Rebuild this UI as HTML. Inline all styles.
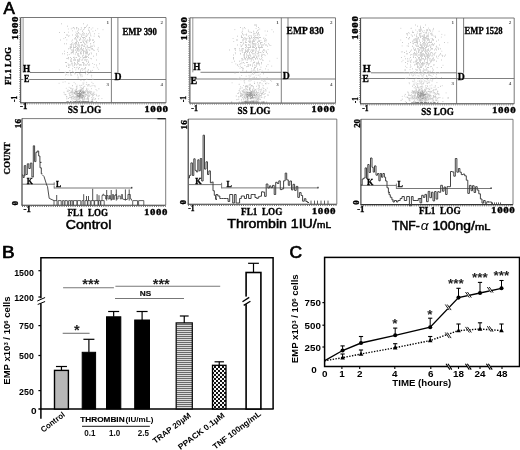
<!DOCTYPE html>
<html><head><meta charset="utf-8"><title>Figure</title>
<style>html,body{margin:0;padding:0;background:#fff;overflow:hidden;}svg{display:block;position:absolute;left:0;top:0;filter:blur(0.35px);}</style></head>
<body><svg width="520" height="450" viewBox="0 0 520 450">
<rect width="520" height="450" fill="#fff"/>
<defs><filter id="bl" x="-5%" y="-5%" width="110%" height="110%"><feGaussianBlur stdDeviation="0.45"/></filter></defs>
<line x1="20.7" y1="17.5" x2="166" y2="17.5" stroke="#696969" stroke-width="0.9" />
<line x1="20.2" y1="102.8" x2="166" y2="102.8" stroke="#3c3c3c" stroke-width="1.0" />
<line x1="20.7" y1="17.5" x2="20.7" y2="102.8" stroke="#3c3c3c" stroke-width="1.0" />
<line x1="166" y1="17.5" x2="166" y2="102.8" stroke="#696969" stroke-width="0.9" />
<line x1="23.099999999999998" y1="17.5" x2="23.099999999999998" y2="72.5" stroke="#696969" stroke-width="0.7" />
<line x1="30" y1="72.5" x2="111.4" y2="72.5" stroke="#696969" stroke-width="0.85" />
<line x1="29.2" y1="79.5" x2="166" y2="79.5" stroke="#696969" stroke-width="0.85" />
<line x1="20.7" y1="79.5" x2="23.3" y2="79.5" stroke="#696969" stroke-width="0.85" />
<line x1="111.4" y1="17.5" x2="111.4" y2="102.8" stroke="#696969" stroke-width="0.85" />
<line x1="117.9" y1="17.5" x2="117.9" y2="72.5" stroke="#696969" stroke-width="0.85" />
<line x1="20.7" y1="103.89999999999999" x2="166" y2="103.89999999999999" stroke="#555" stroke-width="0.9" stroke-dasharray="0.7 1.5"/>
<line x1="19.599999999999998" y1="17.5" x2="19.599999999999998" y2="102.8" stroke="#555" stroke-width="0.9" stroke-dasharray="0.7 1.5"/>
<g filter="url(#bl)">
<path d="M92.6 83.5h1.0M94.0 46.2h1.0M71.2 75.3h1.0M81.3 85.3h1.0M82.8 88.8h1.0M82.2 59.2h1.0M81.0 60.1h1.0M80.4 80.4h1.0M83.9 93.6h1.0M102.5 29.7h1.0M92.1 96.3h1.0M82.8 55.4h1.0M83.0 29.6h1.0M90.2 43.7h1.0M71.3 44.6h1.0M85.0 44.4h1.0M82.9 48.7h1.0M90.8 29.1h1.0M87.0 74.6h1.0M71.2 41.1h1.0M98.8 36.4h1.0M80.2 51.9h1.0M78.5 96.1h1.0M67.0 58.4h1.0M87.5 49.7h1.0M69.3 70.6h1.0M93.9 64.5h1.0M69.3 70.7h1.0M87.6 85.9h1.0M82.4 57.9h1.0M86.3 79.0h1.0M91.1 76.9h1.0M74.2 64.8h1.0M87.9 84.6h1.0M72.1 63.4h1.0M79.8 29.7h1.0M94.5 99.6h1.0M84.8 71.0h1.0M76.7 64.3h1.0M84.4 99.5h1.0M82.4 90.6h1.0M69.9 44.5h1.0M58.9 69.9h1.0M79.1 61.2h1.0M79.6 97.7h1.0M92.3 27.9h1.0M84.5 92.5h1.0M64.7 81.8h1.0M85.0 68.6h1.0M70.9 58.7h1.0M98.1 69.3h1.0M87.3 42.1h1.0M70.6 53.7h1.0M80.7 52.9h1.0M68.8 72.4h1.0M78.0 61.1h1.0M87.4 40.5h1.0M82.1 70.3h1.0M91.3 85.9h1.0M68.7 87.3h1.0M80.4 76.8h1.0M98.3 33.6h1.0M82.5 82.9h1.0M81.2 45.8h1.0M90.7 52.7h1.0M89.0 32.6h1.0M86.9 39.8h1.0M90.3 47.5h1.0M78.6 51.1h1.0M71.4 62.2h1.0M89.8 58.4h1.0M82.3 41.3h1.0M96.0 64.9h1.0M93.2 42.8h1.0M67.9 29.0h1.0M70.8 28.8h1.0M89.7 39.2h1.0M92.4 79.1h1.0M76.1 43.7h1.0M70.8 99.0h1.0M84.2 43.9h1.0M70.6 75.0h1.0M71.7 51.0h1.0M88.2 73.7h1.0M88.1 98.4h1.0M83.7 91.7h1.0M74.8 50.2h1.0M97.7 96.3h1.0M80.6 46.0h1.0M71.7 28.1h1.0M82.8 87.6h1.0M79.3 98.0h1.0M76.0 91.1h1.0M78.6 98.9h1.0M77.9 55.2h1.0M70.7 52.9h1.0M84.7 59.2h1.0M94.0 41.7h1.0M91.6 49.2h1.0M89.1 64.1h1.0M72.7 93.4h1.0M97.2 28.8h1.0M83.4 99.9h1.0M88.6 84.9h1.0M77.7 76.9h1.0M86.3 88.9h1.0M88.5 92.2h1.0M77.6 77.9h1.0M83.5 80.7h1.0M85.7 94.3h1.0M83.8 43.1h1.0M81.7 89.2h1.0M68.8 54.5h1.0M77.0 91.1h1.0M87.3 71.8h1.0M99.0 37.4h1.0M75.7 67.9h1.0M83.0 32.9h1.0M82.5 91.0h1.0M85.0 52.5h1.0M64.6 72.6h1.0M82.7 69.3h1.0M72.4 43.9h1.0M87.2 92.8h1.0M84.5 68.9h1.0M89.9 47.8h1.0M76.5 85.2h1.0M81.7 76.6h1.0M79.7 34.2h1.0M95.0 30.4h1.0M93.4 45.1h1.0M90.4 36.0h1.0M80.3 39.8h1.0M81.8 35.0h1.0M95.8 94.3h1.0M63.8 94.1h1.0M97.5 49.1h1.0M80.8 34.8h1.0M91.2 75.3h1.0M82.3 99.5h1.0M81.3 49.2h1.0M72.9 50.5h1.0M75.4 32.1h1.0M101.4 98.6h1.0M68.7 35.7h1.0M83.7 99.3h1.0M93.2 67.3h1.0M76.0 46.5h1.0M68.7 67.2h1.0M78.6 33.5h1.0M87.3 48.1h1.0M90.8 75.3h1.0M80.0 74.7h1.0M89.3 50.0h1.0M77.7 51.5h1.0M73.9 93.0h1.0M96.9 49.7h1.0M75.3 69.9h1.0M90.7 71.2h1.0M81.1 45.4h1.0M82.8 32.8h1.0M77.7 33.0h1.0M79.9 74.1h1.0M77.0 63.7h1.0M96.4 90.7h1.0M87.0 85.8h1.0M89.8 33.2h1.0M86.3 84.4h1.0M79.3 99.7h1.0M84.4 35.3h1.0M73.9 65.2h1.0M87.6 93.0h1.0M77.4 37.9h1.0M82.9 50.7h1.0M79.8 93.7h1.0M87.5 89.1h1.0M62.5 82.2h1.0M78.9 59.2h1.0M75.8 39.1h1.0M78.1 46.0h1.0M68.0 32.2h1.0M96.9 67.8h1.0M77.3 67.2h1.0M86.9 56.5h1.0M73.0 52.3h1.0M80.9 74.9h1.0M83.0 58.0h1.0M78.1 53.5h1.0M79.6 37.6h1.0M85.9 88.3h1.0M85.9 56.7h1.0M70.9 44.6h1.0M88.2 28.0h1.0M70.6 75.1h1.0M79.1 59.6h1.0M75.3 45.0h1.0M67.6 63.8h1.0M74.6 57.7h1.0M81.9 68.6h1.0M97.8 47.7h1.0M69.9 74.9h1.0M84.3 65.0h1.0M82.0 91.8h1.0M89.3 92.2h1.0M93.9 50.4h1.0M74.8 54.7h1.0M64.6 78.9h1.0M80.0 90.3h1.0M69.0 93.2h1.0M92.3 40.4h1.0M78.1 45.9h1.0M83.4 83.0h1.0M92.4 31.3h1.0M75.0 53.0h1.0M68.0 65.3h1.0M88.4 30.5h1.0M93.5 99.4h1.0M85.5 47.1h1.0M69.2 94.4h1.0M85.8 84.4h1.0M79.8 89.2h1.0M73.5 60.1h1.0M69.2 95.3h1.0M89.7 86.3h1.0M79.4 59.2h1.0M85.1 36.8h1.0M87.9 94.1h1.0M85.4 71.5h1.0M79.9 57.4h1.0M86.6 45.7h1.0M86.1 82.4h1.0M86.8 59.7h1.0M81.1 29.0h1.0M72.5 88.7h1.0M72.2 42.6h1.0M78.6 47.5h1.0M92.0 70.4h1.0M80.9 85.5h1.0M94.7 86.8h1.0M92.1 63.5h1.0M79.1 90.2h1.0M82.4 55.6h1.0M69.4 48.3h1.0M93.7 36.2h1.0M91.3 82.3h1.0M58.6 83.3h1.0M74.5 98.9h1.0M87.9 69.5h1.0M89.0 50.3h1.0M72.5 66.2h1.0M80.8 27.6h1.0M71.8 49.8h1.0M84.5 56.8h1.0M83.8 63.6h1.0M67.6 75.0h1.0M76.6 27.8h1.0M85.2 47.8h1.0M65.8 88.3h1.0M70.2 65.0h1.0M91.0 88.7h1.0M80.2 57.5h1.0M80.1 49.9h1.0M72.9 53.8h1.0M73.4 27.8h1.0M73.7 57.2h1.0M87.1 90.6h1.0M68.4 93.3h1.0M73.6 82.4h1.0M66.1 74.4h1.0M81.7 75.1h1.0M74.7 73.6h1.0M74.3 74.0h1.0M95.5 89.5h1.0M74.9 83.8h1.0M85.9 53.1h1.0M69.7 46.9h1.0M76.2 67.4h1.0M63.3 38.6h1.0M86.2 61.7h1.0M72.0 30.8h1.0M66.2 58.5h1.0M80.0 53.5h1.0M80.0 64.7h1.0M79.5 96.9h1.0M77.7 78.0h1.0M72.5 71.8h1.0M82.6 92.4h1.0M86.9 47.2h1.0M96.1 65.9h1.0M88.7 54.5h1.0M66.3 39.9h1.0M79.9 75.4h1.0M77.2 47.3h1.0M64.9 72.2h1.0M82.3 40.1h1.0M92.5 85.4h1.0M86.4 43.8h1.0M75.0 98.1h1.0" stroke="#d6d6d6" stroke-width="1.0" fill="none"/>
<path d="M76.0 27.5h1.0M96.0 55.0h1.0M75.0 42.5h1.0M68.0 58.8h1.0M81.0 42.5h1.0M77.0 45.0h1.0M88.0 47.5h1.0M90.0 40.0h1.0M75.0 43.8h1.0M76.0 48.8h1.0M88.0 65.0h1.0M72.0 65.0h1.0M81.0 68.8h1.0M79.0 40.0h1.0M86.0 57.5h1.0M77.0 50.0h1.0M81.0 53.8h1.0M67.0 35.0h1.0M80.0 52.5h1.0M76.0 28.8h1.0M90.0 46.2h1.0M72.0 68.8h1.0M88.0 62.5h1.0M86.0 56.2h1.0M73.0 50.0h1.0M83.0 57.5h1.0M84.0 37.5h1.0M75.0 46.2h1.0M79.0 40.0h1.0M66.0 35.0h1.0M82.0 50.0h1.0M84.0 27.5h1.0M77.0 61.2h1.0M65.0 37.5h1.0M68.0 65.0h1.0M80.0 42.5h1.0M81.0 48.8h1.0M87.0 63.8h1.0M87.0 53.8h1.0M86.0 60.0h1.0M89.0 27.5h1.0M83.0 51.2h1.0M81.0 47.5h1.0M79.0 56.2h1.0M81.0 51.2h1.0M72.0 35.0h1.0M74.0 28.8h1.0M76.0 40.0h1.0M67.0 26.2h1.0M76.0 42.5h1.0M96.0 60.0h1.0M74.0 43.8h1.0M72.0 40.0h1.0M77.0 50.0h1.0M75.0 60.0h1.0M85.0 73.8h1.0M70.0 57.5h1.0M77.0 31.2h1.0M78.0 30.0h1.0M90.0 71.2h1.0M89.0 31.2h1.0M83.0 51.2h1.0M83.0 37.5h1.0M65.0 75.0h1.0M89.0 53.8h1.0M76.0 52.5h1.0M71.0 61.2h1.0M81.0 48.8h1.0M77.0 48.8h1.0M81.0 45.0h1.0M87.0 52.5h1.0M79.0 40.0h1.0M89.0 65.0h1.0M85.0 27.5h1.0M77.0 62.5h1.0M80.0 65.0h1.0M77.0 60.0h1.0M77.0 47.5h1.0M75.0 38.8h1.0M92.0 48.8h1.0M86.0 33.8h1.0M64.0 43.8h1.0M83.0 41.2h1.0M84.0 60.0h1.0M77.0 48.8h1.0M74.0 62.5h1.0M93.0 56.2h1.0M76.0 41.2h1.0M78.0 61.2h1.0M74.0 67.5h1.0M71.0 50.0h1.0M90.0 71.2h1.0M77.0 60.0h1.0M99.0 63.8h1.0M64.0 53.8h1.0M98.0 36.2h1.0M87.0 25.0h1.0M92.0 40.0h1.0M86.0 61.2h1.0M59.0 32.5h1.0M82.0 31.2h1.0M80.0 38.8h1.0M90.0 43.8h1.0M73.0 57.5h1.0M89.0 47.5h1.0M82.0 56.2h1.0M76.0 36.2h1.0M84.0 46.2h1.0M70.0 60.0h1.0M83.0 51.2h1.0M74.0 47.5h1.0M85.0 56.2h1.0M74.0 38.8h1.0M83.0 52.5h1.0M86.0 36.2h1.0M87.0 71.2h1.0M87.0 51.2h1.0M87.0 35.0h1.0M77.0 75.0h1.0M68.0 36.2h1.0M86.0 42.5h1.0M76.0 36.2h1.0M93.0 42.5h1.0M78.0 28.8h1.0M86.0 50.0h1.0M84.0 68.8h1.0M81.0 36.2h1.0M72.0 51.2h1.0M90.0 35.0h1.0M78.0 48.8h1.0M85.0 38.8h1.0M82.0 60.0h1.0M80.0 48.8h1.0M85.0 57.5h1.0M89.0 37.5h1.0M89.0 47.5h1.0M71.0 43.8h1.0M71.0 47.5h1.0M71.0 58.8h1.0M78.0 60.0h1.0M70.0 48.8h1.0M60.0 40.0h1.0M86.0 65.0h1.0M92.0 48.8h1.0M73.0 45.0h1.0M66.0 66.2h1.0M89.0 38.8h1.0M94.0 33.8h1.0M84.0 40.0h1.0M67.0 55.0h1.0M71.0 63.8h1.0M73.0 51.2h1.0M76.0 51.2h1.0M75.0 60.0h1.0M85.0 51.2h1.0M79.0 73.8h1.0M75.0 45.0h1.0M86.0 50.0h1.0M68.0 48.8h1.0M77.0 37.5h1.0M81.0 36.2h1.0M78.0 36.2h1.0M92.0 46.2h1.0M83.0 53.8h1.0M85.0 48.8h1.0M86.0 51.2h1.0M62.0 53.8h1.0M70.0 61.2h1.0M82.0 45.0h1.0M61.0 23.8h1.0M71.0 45.0h1.0M70.0 73.8h1.0M83.0 48.8h1.0M73.0 46.2h1.0M78.0 45.0h1.0M79.0 60.0h1.0M67.0 52.5h1.0M88.0 33.8h1.0M79.0 45.0h1.0M71.0 61.2h1.0M78.0 63.8h1.0M83.0 46.2h1.0M82.0 45.0h1.0M68.0 67.5h1.0M83.0 63.8h1.0M66.0 62.5h1.0M86.0 50.0h1.0M64.0 51.2h1.0M75.0 47.5h1.0M80.0 38.8h1.0M79.0 50.0h1.0M91.0 48.8h1.0M98.0 36.2h1.0M79.0 65.0h1.0M68.0 57.5h1.0M83.0 42.5h1.0M78.0 68.8h1.0M77.0 53.8h1.0M83.0 65.0h1.0M64.0 32.5h1.0M70.0 46.2h1.0M85.0 60.0h1.0M78.0 68.8h1.0M79.0 58.8h1.0M74.0 60.0h1.0M75.0 63.8h1.0M86.0 72.5h1.0M77.0 36.2h1.0M86.0 53.8h1.0M76.0 33.8h1.0M86.0 26.2h1.0M77.0 62.5h1.0M78.0 55.0h1.0M84.0 57.5h1.0M88.0 57.5h1.0M77.0 35.0h1.0M78.0 42.5h1.0M83.0 65.0h1.0M86.0 41.2h1.0M82.0 50.0h1.0M76.0 65.0h1.0M85.0 53.8h1.0M74.0 63.8h1.0M78.0 50.0h1.0M78.0 56.2h1.0M80.0 70.0h1.0M79.0 46.2h1.0M91.0 58.8h1.0M85.0 56.2h1.0M80.0 53.8h1.0M84.0 51.2h1.0M66.0 66.2h1.0M76.0 43.8h1.0M77.0 41.2h1.0M73.0 48.8h1.0M87.0 46.2h1.0M84.0 33.8h1.0M86.0 36.2h1.0M85.0 41.2h1.0M75.0 35.0h1.0M70.0 47.5h1.0M73.0 47.5h1.0M89.0 40.0h1.0M78.0 48.8h1.0M75.0 50.0h1.0M82.0 62.5h1.0M75.0 47.5h1.0M79.0 65.0h1.0M72.0 52.5h1.0M86.0 57.5h1.0M75.0 37.5h1.0M66.0 43.8h1.0M78.0 32.5h1.0M86.0 52.5h1.0M78.0 43.8h1.0M84.0 46.2h1.0M84.0 43.8h1.0M88.0 30.0h1.0M72.0 71.2h1.0M88.0 70.0h1.0M74.0 58.8h1.0M88.0 61.2h1.0M79.0 67.5h1.0M83.0 35.0h1.0M98.0 51.2h1.0M89.0 41.2h1.0M73.0 60.0h1.0M86.0 41.2h1.0M82.0 33.8h1.0M65.0 62.5h1.0M71.0 58.8h1.0M88.0 55.0h1.0M91.0 53.8h1.0M82.0 50.0h1.0M83.0 53.8h1.0M73.0 50.0h1.0M89.0 40.0h1.0M84.0 28.8h1.0M80.0 71.2h1.0M81.0 65.0h1.0M77.0 55.0h1.0M83.0 23.8h1.0M74.0 72.5h1.0M74.0 65.0h1.0M93.0 50.0h1.0M88.0 55.0h1.0M76.0 57.5h1.0M83.0 38.8h1.0M77.0 33.8h1.0M77.0 50.0h1.0M73.0 27.5h1.0M85.0 65.0h1.0M73.0 51.2h1.0M96.0 53.8h1.0M69.0 65.0h1.0M85.0 67.5h1.0M85.0 56.2h1.0M91.0 46.2h1.0M82.0 37.5h1.0M71.0 52.5h1.0M82.0 31.2h1.0M83.0 62.5h1.0M71.0 46.2h1.0M93.0 40.0h1.0" stroke="#cbcbcb" stroke-width="1.0" fill="none"/>
<path d="M84.3 98.4h1.0M81.3 95.5h1.0M84.3 96.1h1.0M81.1 88.0h1.0M81.8 91.2h1.0M88.4 84.9h1.0M87.5 95.3h1.0M71.8 89.2h1.0M87.9 91.8h1.0M79.4 95.1h1.0M89.2 91.1h1.0M77.0 97.6h1.0M82.7 84.2h1.0M84.5 94.1h1.0M72.3 92.0h1.0M68.0 98.4h1.0M91.1 91.9h1.0M76.5 88.1h1.0M74.7 90.1h1.0M87.9 99.3h1.0M72.7 98.6h1.0M74.6 90.7h1.0M85.5 94.3h1.0M98.6 95.7h1.0M77.7 98.2h1.0M71.3 97.9h1.0M91.7 94.2h1.0M76.1 100.0h1.0M71.6 96.5h1.0M76.1 96.2h1.0M74.1 97.6h1.0M77.3 96.8h1.0M66.8 91.2h1.0M82.0 88.5h1.0M79.2 90.7h1.0M83.6 97.6h1.0M76.5 97.8h1.0M75.8 95.3h1.0M83.9 97.4h1.0M75.2 94.1h1.0M66.3 98.8h1.0M71.6 92.1h1.0M76.2 96.7h1.0M77.9 93.5h1.0M80.6 93.3h1.0M79.8 90.3h1.0M75.9 89.2h1.0M86.4 98.9h1.0M85.0 96.3h1.0M75.5 97.4h1.0M68.4 83.3h1.0M71.1 101.7h1.0M74.6 99.5h1.0M91.9 99.4h1.0M82.1 99.8h1.0M71.3 91.3h1.0M80.2 91.3h1.0M93.2 97.9h1.0M90.2 93.1h1.0M91.7 100.3h1.0M76.2 92.2h1.0M82.3 100.1h1.0M91.8 101.7h1.0M76.4 86.6h1.0M67.3 101.7h1.0M87.9 100.2h1.0M80.0 95.2h1.0M83.6 96.9h1.0M80.6 90.3h1.0M69.7 95.5h1.0M78.8 101.3h1.0M72.0 85.7h1.0M65.3 94.6h1.0M92.6 93.2h1.0M74.7 96.5h1.0M91.6 99.8h1.0M86.6 99.1h1.0M77.8 95.2h1.0M63.5 92.3h1.0M82.8 93.7h1.0M79.0 93.6h1.0M72.8 97.1h1.0M89.7 93.1h1.0M83.3 99.9h1.0M75.1 94.4h1.0M92.9 93.9h1.0M95.0 98.7h1.0M66.3 97.0h1.0M81.9 97.1h1.0M85.1 92.7h1.0M88.5 96.2h1.0M94.2 94.3h1.0M84.2 86.3h1.0M75.4 91.1h1.0M87.0 91.9h1.0M88.7 92.5h1.0M87.2 92.0h1.0M71.0 97.5h1.0M78.2 97.2h1.0M67.6 90.0h1.0M83.0 87.1h1.0M82.5 89.0h1.0M87.4 98.7h1.0M96.1 95.7h1.0M76.3 98.6h1.0M69.9 92.7h1.0M72.5 92.2h1.0M70.3 88.1h1.0M71.7 96.6h1.0M80.2 94.4h1.0M83.5 98.3h1.0M82.1 96.6h1.0M76.3 99.8h1.0M86.1 89.7h1.0M82.6 95.2h1.0M70.5 88.6h1.0M70.7 92.9h1.0M77.8 93.6h1.0M79.7 96.7h1.0M79.6 98.0h1.0M78.5 100.0h1.0M79.5 90.9h1.0M94.3 85.8h1.0M81.3 93.2h1.0M82.5 92.9h1.0M73.3 96.4h1.0M80.0 93.7h1.0M81.6 93.9h1.0M70.6 91.2h1.0M85.5 91.3h1.0M84.9 94.3h1.0M83.0 96.4h1.0M76.7 93.6h1.0M79.5 97.8h1.0M98.1 98.8h1.0M79.1 91.6h1.0M80.9 94.5h1.0M81.9 94.7h1.0M79.8 100.6h1.0M92.7 95.3h1.0M91.9 99.1h1.0M89.0 96.0h1.0M81.6 98.5h1.0M72.8 95.1h1.0M71.5 99.0h1.0M81.6 97.5h1.0M77.5 91.3h1.0M87.2 92.8h1.0M78.4 95.0h1.0M83.5 95.1h1.0M72.2 90.0h1.0M87.6 93.4h1.0M78.2 90.7h1.0M87.0 97.0h1.0M75.9 86.9h1.0M93.5 92.2h1.0M71.3 92.5h1.0M71.5 94.8h1.0M75.8 89.3h1.0M85.1 90.9h1.0M66.1 96.4h1.0M75.9 89.8h1.0M67.5 91.6h1.0M75.5 92.6h1.0M76.2 100.6h1.0M88.0 96.2h1.0M84.2 92.7h1.0M69.1 97.3h1.0M90.3 91.6h1.0M74.8 91.6h1.0M70.1 97.3h1.0M71.9 101.1h1.0M92.5 95.2h1.0M79.7 90.9h1.0M86.8 95.2h1.0M68.8 90.5h1.0M83.5 92.5h1.0M83.3 95.9h1.0M90.8 94.3h1.0M88.0 99.9h1.0M89.9 93.2h1.0M78.5 92.0h1.0M80.9 89.4h1.0M73.6 92.8h1.0M77.9 99.4h1.0M71.8 94.0h1.0M82.0 93.5h1.0M71.9 90.8h1.0M76.2 92.3h1.0M75.9 96.7h1.0M79.4 85.4h1.0M91.7 94.9h1.0M76.9 99.9h1.0M79.1 93.8h1.0M73.4 99.0h1.0M86.3 90.9h1.0M75.8 100.5h1.0M74.6 92.9h1.0M74.2 93.7h1.0M86.5 95.1h1.0M87.5 97.6h1.0M64.8 94.7h1.0M79.8 87.1h1.0M85.9 94.6h1.0M76.2 97.2h1.0M87.2 98.1h1.0M76.1 94.6h1.0M98.4 88.8h1.0M80.5 95.0h1.0M91.3 97.6h1.0M81.7 93.4h1.0M89.3 95.1h1.0M79.3 95.6h1.0M85.2 95.0h1.0M81.9 98.5h1.0M74.6 93.7h1.0" stroke="#c6c6c6" stroke-width="1.0" fill="none"/>
<path d="M79.2 95.7h1.0M80.3 93.3h1.0M76.5 93.6h1.0M77.8 96.1h1.0M80.5 94.4h1.0M76.4 91.7h1.0M79.3 95.5h1.0M79.9 93.8h1.0M80.4 90.4h1.0M81.8 97.3h1.0M79.4 94.8h1.0M78.5 96.1h1.0M76.8 93.1h1.0M80.0 91.5h1.0M80.2 95.2h1.0M79.0 93.3h1.0M83.2 93.2h1.0M79.4 95.9h1.0M79.0 96.4h1.0M79.0 94.8h1.0M79.0 95.6h1.0M77.4 96.1h1.0M81.5 92.2h1.0M75.4 91.6h1.0M77.1 95.7h1.0M79.2 98.1h1.0M82.8 91.2h1.0M78.1 93.7h1.0M82.9 95.9h1.0M81.2 92.7h1.0M83.9 92.1h1.0M79.1 92.4h1.0M76.8 94.8h1.0M76.8 95.7h1.0M80.2 94.4h1.0M80.5 96.6h1.0M81.6 92.0h1.0M80.6 96.1h1.0M78.1 93.5h1.0M81.9 95.6h1.0M79.3 97.2h1.0M81.2 97.8h1.0M78.1 96.3h1.0M74.2 93.0h1.0M83.0 92.4h1.0" stroke="#999" stroke-width="1.0" fill="none"/>
</g>
<path d="M78.9 101.9h0.9M77.6 101.9h0.9M83.3 101.9h0.9M88.0 101.9h0.9M91.2 101.9h0.9M78.9 101.9h0.9M82.4 101.9h0.9M86.1 101.9h0.9M88.1 101.9h0.9M78.1 101.9h0.9M89.5 101.9h0.9M69.9 101.9h0.9M81.9 101.9h0.9M70.4 101.9h0.9M76.8 101.9h0.9M74.5 101.9h0.9M92.4 101.9h0.9M91.7 101.9h0.9M85.4 101.9h0.9M81.1 101.9h0.9M66.3 101.9h0.9M68.1 101.9h0.9M81.3 101.9h0.9M85.1 101.9h0.9M83.6 101.9h0.9M74.9 101.9h0.9M74.6 101.9h0.9M83.8 101.9h0.9M95.9 101.9h0.9M85.1 101.9h0.9M79.7 101.9h0.9M79.2 101.9h0.9M83.1 101.9h0.9M82.2 101.9h0.9M70.0 101.9h0.9M90.8 101.9h0.9M83.2 101.9h0.9M83.9 101.9h0.9M76.8 101.9h0.9M87.8 101.9h0.9M87.1 101.9h0.9M74.9 101.9h0.9M87.2 101.9h0.9M75.0 101.9h0.9M67.1 101.9h0.9M85.9 101.9h0.9M73.1 101.9h0.9M76.1 101.9h0.9M73.5 101.9h0.9M79.5 101.9h0.9" stroke="#777" stroke-width="0.9" fill="none"/>
<text x="106.4" y="23.5" font-size="5" font-family="Liberation Serif" font-weight="bold" text-anchor="start" fill="#555">1</text>
<text x="160.5" y="23.5" font-size="5" font-family="Liberation Serif" font-weight="bold" text-anchor="start" fill="#555">2</text>
<text x="106.4" y="86.0" font-size="5" font-family="Liberation Serif" font-weight="bold" text-anchor="start" fill="#555">3</text>
<text x="160.5" y="86.0" font-size="5" font-family="Liberation Serif" font-weight="bold" text-anchor="start" fill="#555">4</text>
<text x="122.5" y="34.6" font-size="10.5" font-family="Liberation Serif" font-weight="bold" text-anchor="start" textLength="34.3" lengthAdjust="spacingAndGlyphs" fill="#000" stroke="#000" stroke-width="0.32">EMP 390</text>
<text x="22.9" y="71.7" font-size="10" font-family="Liberation Serif" font-weight="bold" text-anchor="start" textLength="7.2" lengthAdjust="spacingAndGlyphs" fill="#000" stroke="#000" stroke-width="0.32">H</text>
<text x="24" y="82.3" font-size="9.6" font-family="Liberation Serif" font-weight="bold" text-anchor="start" textLength="5.4" lengthAdjust="spacingAndGlyphs" fill="#000" stroke="#000" stroke-width="0.32">E</text>
<text x="114.4" y="79.7" font-size="9.4" font-family="Liberation Serif" font-weight="bold" text-anchor="start" textLength="7" lengthAdjust="spacingAndGlyphs" fill="#000" stroke="#000" stroke-width="0.32">D</text>
<text x="20" y="109.3" font-size="8.6" font-family="Liberation Serif" font-weight="bold" text-anchor="start" textLength="7.3" lengthAdjust="spacingAndGlyphs" fill="#000" stroke="#000" stroke-width="0.32">-1</text>
<text x="67.7" y="112.7" font-size="9.6" font-family="Liberation Serif" font-weight="bold" text-anchor="start" textLength="33.5" lengthAdjust="spacingAndGlyphs" fill="#000" stroke="#000" stroke-width="0.32">SS LOG</text>
<text x="144.2" y="112.4" font-size="9.1" font-family="Liberation Serif" font-weight="bold" text-anchor="start" textLength="24.5" lengthAdjust="spacingAndGlyphs" fill="#000" stroke="#000" stroke-width="0.32" letter-spacing="0.5">1000</text>
<path d="M151.76 111.50L154.26 106.96M157.64 111.50L160.14 106.96M163.51 111.50L166.01 106.96" stroke="#000" stroke-width="0.7" fill="none"/>
<text x="17.9" y="40" font-size="9.1" font-family="Liberation Serif" font-weight="bold" text-anchor="start" transform="rotate(-90 17.9 40)" textLength="24.0" lengthAdjust="spacingAndGlyphs" fill="#000" stroke="#000" stroke-width="0.32" letter-spacing="0.5">1000</text>
<path d="M25.27 39.10L27.77 34.56M31.02 39.10L33.52 34.56M36.77 39.10L39.27 34.56" stroke="#000" stroke-width="0.7" fill="none" transform="rotate(-90 17.9 40)"/>
<text x="17.3" y="102" font-size="8.6" font-family="Liberation Serif" font-weight="bold" text-anchor="start" transform="rotate(-90 17.3 102)" textLength="6" lengthAdjust="spacingAndGlyphs" fill="#000" stroke="#000" stroke-width="0.32">-1</text>
<text x="11.3" y="85" font-size="9.2" font-family="Liberation Serif" font-weight="bold" text-anchor="start" transform="rotate(-90 11.3 85)" textLength="38" lengthAdjust="spacingAndGlyphs" fill="#000" stroke="#000" stroke-width="0.32">FL1 LOG</text>
<line x1="189.9" y1="17.8" x2="335.5" y2="17.8" stroke="#696969" stroke-width="0.9" />
<line x1="189.4" y1="103.1" x2="335.5" y2="103.1" stroke="#3c3c3c" stroke-width="1.0" />
<line x1="189.9" y1="17.8" x2="189.9" y2="103.1" stroke="#3c3c3c" stroke-width="1.0" />
<line x1="335.5" y1="17.8" x2="335.5" y2="103.1" stroke="#696969" stroke-width="0.9" />
<line x1="192.8" y1="17.8" x2="192.8" y2="72.3" stroke="#696969" stroke-width="0.7" />
<line x1="200.5" y1="72.3" x2="281.3" y2="72.3" stroke="#696969" stroke-width="0.85" />
<line x1="189.9" y1="79.0" x2="335.5" y2="79.0" stroke="#696969" stroke-width="0.85" />
<line x1="281.3" y1="17.8" x2="281.3" y2="103.1" stroke="#696969" stroke-width="0.85" />
<line x1="288" y1="17.8" x2="288" y2="72.3" stroke="#696969" stroke-width="0.85" />
<line x1="189.9" y1="104.19999999999999" x2="335.5" y2="104.19999999999999" stroke="#555" stroke-width="0.9" stroke-dasharray="0.7 1.5"/>
<line x1="188.8" y1="17.8" x2="188.8" y2="103.1" stroke="#555" stroke-width="0.9" stroke-dasharray="0.7 1.5"/>
<g filter="url(#bl)">
<path d="M273.0 31.9h1.0M246.0 34.0h1.0M259.5 76.9h1.0M239.4 50.4h1.0M242.3 70.4h1.0M244.4 39.4h1.0M243.8 80.8h1.0M255.8 100.7h1.0M262.7 60.4h1.0M248.5 47.5h1.0M254.1 61.9h1.0M252.5 51.1h1.0M238.2 66.3h1.0M265.0 68.9h1.0M252.2 51.6h1.0M254.0 37.8h1.0M249.9 41.1h1.0M264.6 81.6h1.0M242.0 94.3h1.0M253.3 53.7h1.0M236.2 99.7h1.0M257.2 83.1h1.0M250.7 80.2h1.0M241.3 63.7h1.0M254.7 95.6h1.0M235.0 53.7h1.0M251.9 92.5h1.0M260.1 69.4h1.0M246.1 95.3h1.0M250.3 44.1h1.0M241.7 51.6h1.0M250.3 94.4h1.0M246.8 47.5h1.0M258.6 98.0h1.0M247.9 79.6h1.0M241.1 75.5h1.0M251.7 70.9h1.0M249.7 65.3h1.0M257.7 96.3h1.0M249.5 87.9h1.0M249.5 81.0h1.0M256.9 82.4h1.0M248.8 32.1h1.0M247.9 44.4h1.0M246.1 92.0h1.0M260.6 90.4h1.0M258.8 45.7h1.0M256.6 58.8h1.0M270.0 80.4h1.0M260.4 40.4h1.0M253.7 77.1h1.0M271.4 29.7h1.0M263.1 81.3h1.0M258.9 87.4h1.0M252.9 39.3h1.0M257.6 56.1h1.0M264.6 31.0h1.0M257.1 30.5h1.0M251.7 53.0h1.0M240.9 36.1h1.0M242.2 52.5h1.0M261.6 83.9h1.0M253.9 82.0h1.0M264.3 91.0h1.0M243.3 79.5h1.0M245.7 76.2h1.0M253.1 51.0h1.0M259.9 91.9h1.0M257.9 37.1h1.0M244.3 65.5h1.0M247.4 38.3h1.0M258.7 72.2h1.0M250.3 58.6h1.0M263.4 38.1h1.0M253.3 32.0h1.0M257.2 34.8h1.0M253.1 74.4h1.0M250.7 100.7h1.0M253.1 46.2h1.0M261.7 71.1h1.0M240.5 79.8h1.0M240.6 46.6h1.0M242.3 28.2h1.0M257.1 30.4h1.0M248.3 80.9h1.0M254.4 45.5h1.0M256.6 44.8h1.0M255.3 43.7h1.0M242.0 50.5h1.0M250.7 74.8h1.0M256.6 98.4h1.0M271.1 81.2h1.0M242.1 70.4h1.0M256.4 31.6h1.0M242.4 41.1h1.0M257.4 34.7h1.0M254.8 65.9h1.0M243.9 95.3h1.0M246.3 99.9h1.0M247.2 55.1h1.0M265.6 35.2h1.0M253.6 50.2h1.0M259.2 29.0h1.0M240.7 60.9h1.0M243.2 43.1h1.0M257.5 71.0h1.0M258.6 55.1h1.0M255.3 96.4h1.0M265.4 41.9h1.0M259.0 69.7h1.0M244.2 83.0h1.0M258.3 56.8h1.0M255.3 33.7h1.0M255.2 90.1h1.0M237.6 78.6h1.0M234.3 29.6h1.0M243.6 80.8h1.0M238.9 64.3h1.0M245.8 86.3h1.0M259.8 47.5h1.0M241.9 97.8h1.0M250.3 86.8h1.0M267.6 49.6h1.0M244.9 44.8h1.0M245.0 59.1h1.0M252.5 77.6h1.0M262.4 87.7h1.0M246.1 34.8h1.0M232.6 38.5h1.0M276.7 58.3h1.0M255.5 93.4h1.0M253.6 100.3h1.0M249.2 49.5h1.0M248.2 44.8h1.0M245.5 60.0h1.0M240.0 66.2h1.0M260.6 97.4h1.0M259.3 83.2h1.0M260.9 80.2h1.0M258.2 46.7h1.0M259.9 79.3h1.0M245.9 57.4h1.0M267.7 69.8h1.0M251.5 38.4h1.0M250.0 71.4h1.0M252.8 92.4h1.0M256.6 63.2h1.0M261.7 57.5h1.0M246.8 79.5h1.0M231.5 62.4h1.0M259.8 82.5h1.0M250.1 76.1h1.0M253.3 44.3h1.0M234.5 73.3h1.0M241.1 99.4h1.0M259.7 74.3h1.0M262.0 80.0h1.0M252.7 92.5h1.0M242.3 29.1h1.0M238.6 96.9h1.0M250.4 94.2h1.0M239.8 92.6h1.0M265.4 84.0h1.0M261.8 42.4h1.0M251.6 41.8h1.0M240.1 86.7h1.0M260.0 59.6h1.0M261.4 46.4h1.0M242.8 42.8h1.0M247.9 98.7h1.0M252.6 63.4h1.0M252.3 89.2h1.0M243.8 63.4h1.0M239.3 77.3h1.0M248.4 64.7h1.0M258.1 29.8h1.0M265.2 40.5h1.0M259.2 82.8h1.0M254.0 77.3h1.0M243.0 85.5h1.0M255.2 39.7h1.0M248.3 55.8h1.0M244.7 28.6h1.0M253.7 68.7h1.0M260.4 67.2h1.0M250.2 55.8h1.0M235.0 50.4h1.0M258.4 75.4h1.0M240.9 94.8h1.0M253.1 33.4h1.0M255.5 75.2h1.0M245.2 86.1h1.0M246.9 89.4h1.0M244.6 34.6h1.0M246.0 66.7h1.0M245.3 90.2h1.0M255.8 50.4h1.0M239.9 44.9h1.0M245.7 48.1h1.0M253.7 98.0h1.0M264.7 55.6h1.0M262.8 54.5h1.0M250.5 61.3h1.0M255.3 40.0h1.0M245.0 93.4h1.0M254.7 95.4h1.0M240.0 95.9h1.0M256.6 51.7h1.0M257.4 41.7h1.0M255.9 77.5h1.0M246.1 86.1h1.0M258.0 44.9h1.0M256.6 57.1h1.0M240.1 88.2h1.0M241.9 95.7h1.0M267.5 64.6h1.0M243.9 82.2h1.0M231.6 82.8h1.0M266.4 83.0h1.0M236.6 99.6h1.0M248.8 77.0h1.0M264.1 54.7h1.0M247.6 98.0h1.0M255.4 53.7h1.0M233.2 41.5h1.0M254.8 98.2h1.0M253.5 53.5h1.0M253.5 54.1h1.0M268.2 83.6h1.0M242.8 59.8h1.0M245.6 88.9h1.0M250.2 56.4h1.0M249.2 38.8h1.0M264.5 51.0h1.0M255.6 38.2h1.0M250.2 42.8h1.0M251.9 46.1h1.0M261.4 52.9h1.0M252.1 72.6h1.0M258.7 52.5h1.0M241.3 32.3h1.0M263.0 38.4h1.0M257.6 84.9h1.0M244.3 37.5h1.0M234.8 52.6h1.0M249.5 84.1h1.0M245.1 100.9h1.0M246.2 56.6h1.0M239.7 51.0h1.0M254.1 89.2h1.0M242.2 67.3h1.0M245.1 100.0h1.0M269.2 61.1h1.0M250.8 58.0h1.0M249.3 35.7h1.0M251.6 100.8h1.0M266.7 77.6h1.0M267.3 94.9h1.0M258.8 86.3h1.0M255.6 28.4h1.0M258.6 40.5h1.0M257.2 38.6h1.0M250.1 99.0h1.0M248.5 75.4h1.0M270.3 45.5h1.0M257.9 63.1h1.0M247.4 64.6h1.0M250.2 32.2h1.0M258.3 88.1h1.0M271.2 66.1h1.0M244.4 38.1h1.0M235.3 63.9h1.0M255.0 35.7h1.0M255.3 43.3h1.0M257.9 55.6h1.0M254.1 73.4h1.0M264.3 80.4h1.0M236.9 65.0h1.0M256.7 35.5h1.0M249.3 87.7h1.0M247.7 55.5h1.0M247.6 49.6h1.0M243.4 57.0h1.0M256.0 86.3h1.0M256.4 62.5h1.0M241.3 48.7h1.0M254.6 44.6h1.0M247.9 30.0h1.0M239.5 68.2h1.0M253.8 70.3h1.0M257.6 75.1h1.0M241.5 79.3h1.0M241.5 62.6h1.0M266.8 88.1h1.0M256.6 89.0h1.0M250.0 42.2h1.0M250.5 35.7h1.0" stroke="#d6d6d6" stroke-width="1.0" fill="none"/>
<path d="M245.0 38.8h1.0M267.0 46.2h1.0M245.0 52.5h1.0M255.0 71.2h1.0M249.0 41.2h1.0M259.0 41.2h1.0M244.0 56.2h1.0M249.0 37.5h1.0M249.0 45.0h1.0M249.0 41.2h1.0M255.0 45.0h1.0M246.0 62.5h1.0M244.0 58.8h1.0M255.0 46.2h1.0M253.0 31.2h1.0M253.0 37.5h1.0M244.0 53.8h1.0M245.0 51.2h1.0M254.0 62.5h1.0M254.0 62.5h1.0M245.0 45.0h1.0M256.0 65.0h1.0M254.0 43.8h1.0M243.0 38.8h1.0M260.0 37.5h1.0M249.0 57.5h1.0M254.0 41.2h1.0M266.0 52.5h1.0M253.0 60.0h1.0M249.0 58.8h1.0M250.0 38.8h1.0M244.0 55.0h1.0M252.0 47.5h1.0M248.0 47.5h1.0M257.0 63.8h1.0M249.0 53.8h1.0M237.0 36.2h1.0M246.0 38.8h1.0M256.0 25.0h1.0M255.0 58.8h1.0M268.0 43.8h1.0M254.0 67.5h1.0M258.0 38.8h1.0M248.0 36.2h1.0M251.0 58.8h1.0M261.0 56.2h1.0M258.0 62.5h1.0M245.0 58.8h1.0M258.0 47.5h1.0M244.0 52.5h1.0M252.0 58.8h1.0M237.0 45.0h1.0M266.0 66.2h1.0M250.0 46.2h1.0M249.0 38.8h1.0M248.0 50.0h1.0M242.0 48.8h1.0M253.0 35.0h1.0M248.0 31.2h1.0M251.0 52.5h1.0M247.0 51.2h1.0M255.0 58.8h1.0M241.0 46.2h1.0M240.0 27.5h1.0M259.0 58.8h1.0M261.0 58.8h1.0M247.0 52.5h1.0M247.0 66.2h1.0M233.0 55.0h1.0M247.0 58.8h1.0M260.0 42.5h1.0M261.0 63.8h1.0M239.0 72.5h1.0M242.0 33.8h1.0M258.0 41.2h1.0M253.0 50.0h1.0M243.0 68.8h1.0M262.0 51.2h1.0M263.0 50.0h1.0M253.0 46.2h1.0M241.0 46.2h1.0M244.0 55.0h1.0M252.0 43.8h1.0M261.0 55.0h1.0M265.0 45.0h1.0M248.0 41.2h1.0M253.0 47.5h1.0M251.0 71.2h1.0M257.0 42.5h1.0M254.0 47.5h1.0M249.0 47.5h1.0M252.0 57.5h1.0M259.0 50.0h1.0M245.0 50.0h1.0M250.0 46.2h1.0M242.0 48.8h1.0M237.0 65.0h1.0M257.0 58.8h1.0M244.0 52.5h1.0M261.0 47.5h1.0M243.0 48.8h1.0M234.0 61.2h1.0M254.0 33.8h1.0M256.0 63.8h1.0M256.0 57.5h1.0M263.0 52.5h1.0M262.0 47.5h1.0M246.0 46.2h1.0M243.0 55.0h1.0M246.0 55.0h1.0M253.0 70.0h1.0M264.0 43.8h1.0M250.0 47.5h1.0M246.0 71.2h1.0M260.0 47.5h1.0M241.0 42.5h1.0M251.0 68.8h1.0M241.0 67.5h1.0M240.0 53.8h1.0M242.0 45.0h1.0M233.0 57.5h1.0M251.0 37.5h1.0M235.0 48.8h1.0M251.0 32.5h1.0M255.0 48.8h1.0M242.0 40.0h1.0M233.0 58.8h1.0M258.0 47.5h1.0M241.0 36.2h1.0M249.0 38.8h1.0M253.0 40.0h1.0M258.0 63.8h1.0M246.0 40.0h1.0M229.0 50.0h1.0M254.0 38.8h1.0M259.0 41.2h1.0M242.0 60.0h1.0M254.0 25.0h1.0M246.0 35.0h1.0M249.0 52.5h1.0M247.0 51.2h1.0M258.0 46.2h1.0M241.0 37.5h1.0M257.0 70.0h1.0M250.0 55.0h1.0M245.0 42.5h1.0M258.0 43.8h1.0M252.0 51.2h1.0M260.0 52.5h1.0M250.0 46.2h1.0M247.0 62.5h1.0M267.0 31.2h1.0M259.0 37.5h1.0M246.0 46.2h1.0M248.0 45.0h1.0M246.0 71.2h1.0M240.0 42.5h1.0M245.0 52.5h1.0M241.0 50.0h1.0M252.0 73.8h1.0M256.0 48.8h1.0M252.0 72.5h1.0M250.0 41.2h1.0M246.0 45.0h1.0M257.0 37.5h1.0M247.0 50.0h1.0M244.0 57.5h1.0M248.0 56.2h1.0M255.0 67.5h1.0M264.0 40.0h1.0M241.0 36.2h1.0M254.0 56.2h1.0M251.0 50.0h1.0M262.0 60.0h1.0M253.0 57.5h1.0M240.0 63.8h1.0M266.0 51.2h1.0M248.0 65.0h1.0M247.0 51.2h1.0M256.0 47.5h1.0M256.0 26.2h1.0M233.0 58.8h1.0M255.0 52.5h1.0M248.0 50.0h1.0M254.0 36.2h1.0M253.0 41.2h1.0M267.0 53.8h1.0M253.0 62.5h1.0M258.0 61.2h1.0M246.0 51.2h1.0M258.0 52.5h1.0M252.0 43.8h1.0M252.0 66.2h1.0M242.0 33.8h1.0M242.0 31.2h1.0M260.0 72.5h1.0M255.0 51.2h1.0M261.0 62.5h1.0M234.0 48.8h1.0M269.0 45.0h1.0M246.0 42.5h1.0M263.0 45.0h1.0M254.0 65.0h1.0M252.0 50.0h1.0M243.0 35.0h1.0M259.0 35.0h1.0M259.0 65.0h1.0M262.0 47.5h1.0M245.0 51.2h1.0M261.0 56.2h1.0M255.0 48.8h1.0M258.0 27.5h1.0M242.0 68.8h1.0M255.0 58.8h1.0M237.0 40.0h1.0M248.0 48.8h1.0M260.0 43.8h1.0M252.0 41.2h1.0M249.0 55.0h1.0M254.0 62.5h1.0M242.0 58.8h1.0M254.0 41.2h1.0M261.0 42.5h1.0M248.0 56.2h1.0M262.0 45.0h1.0M262.0 55.0h1.0M245.0 58.8h1.0M252.0 41.2h1.0M250.0 65.0h1.0M254.0 47.5h1.0M257.0 33.8h1.0M256.0 66.2h1.0M242.0 37.5h1.0M245.0 47.5h1.0M245.0 50.0h1.0M244.0 53.8h1.0M255.0 55.0h1.0M247.0 60.0h1.0M240.0 42.5h1.0M250.0 65.0h1.0M248.0 57.5h1.0M263.0 73.8h1.0M264.0 41.2h1.0M253.0 56.2h1.0M256.0 56.2h1.0M250.0 51.2h1.0M241.0 58.8h1.0M253.0 43.8h1.0M264.0 50.0h1.0M246.0 57.5h1.0M254.0 57.5h1.0M250.0 58.8h1.0M252.0 65.0h1.0M253.0 40.0h1.0M244.0 57.5h1.0M258.0 32.5h1.0M256.0 48.8h1.0M253.0 41.2h1.0M243.0 43.8h1.0M245.0 45.0h1.0M252.0 51.2h1.0M265.0 38.8h1.0M248.0 51.2h1.0M256.0 37.5h1.0M240.0 53.8h1.0M254.0 57.5h1.0M256.0 32.5h1.0M259.0 48.8h1.0M266.0 45.0h1.0M235.0 48.8h1.0M252.0 53.8h1.0M253.0 43.8h1.0M239.0 48.8h1.0M249.0 42.5h1.0M252.0 46.2h1.0M236.0 40.0h1.0M245.0 47.5h1.0M263.0 50.0h1.0M255.0 25.0h1.0M260.0 43.8h1.0M255.0 37.5h1.0M251.0 60.0h1.0M251.0 52.5h1.0M245.0 41.2h1.0M253.0 47.5h1.0M252.0 42.5h1.0M248.0 58.8h1.0M261.0 45.0h1.0M246.0 51.2h1.0M258.0 53.8h1.0M259.0 47.5h1.0M244.0 27.5h1.0M257.0 53.8h1.0M246.0 53.8h1.0M243.0 62.5h1.0M259.0 63.8h1.0M248.0 66.2h1.0M257.0 68.8h1.0M239.0 61.2h1.0M261.0 46.2h1.0M258.0 51.2h1.0M262.0 47.5h1.0M251.0 36.2h1.0M266.0 40.0h1.0M243.0 40.0h1.0M252.0 51.2h1.0M254.0 68.8h1.0M258.0 33.8h1.0M252.0 47.5h1.0" stroke="#cbcbcb" stroke-width="1.0" fill="none"/>
<path d="M256.7 95.7h1.0M260.9 95.8h1.0M265.5 90.9h1.0M259.7 99.3h1.0M245.8 89.2h1.0M246.3 96.9h1.0M263.3 88.6h1.0M249.0 89.5h1.0M256.9 95.9h1.0M251.4 98.5h1.0M253.4 101.8h1.0M249.0 92.5h1.0M251.2 95.0h1.0M260.5 93.4h1.0M247.3 92.1h1.0M245.5 86.3h1.0M252.1 97.4h1.0M252.3 91.7h1.0M257.9 98.4h1.0M253.0 98.0h1.0M250.3 97.0h1.0M255.1 89.7h1.0M247.4 92.0h1.0M254.0 83.5h1.0M253.2 95.1h1.0M249.8 97.0h1.0M240.2 96.2h1.0M245.5 92.4h1.0M261.2 93.6h1.0M258.9 95.0h1.0M248.9 93.4h1.0M240.5 93.6h1.0M252.1 101.5h1.0M256.6 98.9h1.0M244.3 91.8h1.0M253.8 97.5h1.0M243.3 99.8h1.0M246.4 96.4h1.0M247.6 98.5h1.0M257.5 99.8h1.0M244.5 95.8h1.0M267.6 95.2h1.0M254.6 95.7h1.0M262.7 92.1h1.0M254.6 95.6h1.0M258.4 98.9h1.0M242.2 91.5h1.0M262.9 92.6h1.0M250.8 92.3h1.0M265.2 89.6h1.0M252.5 93.4h1.0M249.0 89.7h1.0M245.2 94.3h1.0M253.0 86.8h1.0M251.8 91.2h1.0M250.7 93.2h1.0M250.2 94.1h1.0M254.5 95.2h1.0M238.7 84.3h1.0M240.4 96.4h1.0M238.7 90.5h1.0M264.6 93.5h1.0M249.6 96.6h1.0M255.8 92.8h1.0M251.8 85.9h1.0M253.4 97.7h1.0M238.2 99.2h1.0M265.1 83.5h1.0M249.5 101.5h1.0M256.1 91.9h1.0M246.4 93.4h1.0M256.0 91.2h1.0M240.1 95.7h1.0M243.3 96.3h1.0M249.3 88.4h1.0M247.2 86.0h1.0M253.8 90.7h1.0M241.7 87.9h1.0M261.3 97.4h1.0M243.5 94.3h1.0M255.5 97.7h1.0M251.0 85.5h1.0M263.5 94.5h1.0M261.2 89.2h1.0M256.9 101.2h1.0M259.5 89.5h1.0M244.9 98.2h1.0M249.6 88.2h1.0M258.0 100.1h1.0M255.8 96.2h1.0M258.5 86.0h1.0M254.6 100.0h1.0M249.2 96.7h1.0M242.3 97.5h1.0M253.1 93.4h1.0M250.8 95.5h1.0M252.5 98.6h1.0M258.6 85.3h1.0M252.9 100.3h1.0M242.4 94.3h1.0M268.8 92.2h1.0M258.5 96.2h1.0M240.3 93.9h1.0M237.4 93.5h1.0M257.8 98.1h1.0M253.2 92.6h1.0M255.8 100.7h1.0M256.8 99.7h1.0M254.4 97.2h1.0M244.4 102.0h1.0M243.1 91.1h1.0M245.8 91.8h1.0M261.0 94.2h1.0M249.1 93.9h1.0M251.0 101.2h1.0M262.2 93.1h1.0M263.8 97.9h1.0M253.4 101.1h1.0M252.0 96.6h1.0M252.2 89.8h1.0M241.7 90.7h1.0M244.5 92.4h1.0M247.0 100.2h1.0M251.1 98.7h1.0M253.6 91.2h1.0M249.0 88.3h1.0M238.1 96.8h1.0M250.7 95.4h1.0M258.2 88.9h1.0M249.8 84.8h1.0M244.4 97.7h1.0M239.4 89.0h1.0M256.5 94.2h1.0M255.4 95.4h1.0M247.8 92.6h1.0M254.1 94.5h1.0M256.5 92.5h1.0M257.0 93.1h1.0M259.6 99.5h1.0M253.5 91.9h1.0M241.5 95.5h1.0M251.8 91.5h1.0M242.7 92.9h1.0M242.9 92.0h1.0M244.2 97.0h1.0M247.5 94.8h1.0M241.0 100.0h1.0M249.7 93.4h1.0M244.0 97.7h1.0M254.3 92.1h1.0M262.9 90.9h1.0M259.7 95.8h1.0M240.6 93.8h1.0M254.8 93.1h1.0M251.5 94.6h1.0M253.9 92.0h1.0M264.5 96.5h1.0M261.8 93.9h1.0M252.3 90.5h1.0M251.2 101.9h1.0M253.1 91.7h1.0M246.8 97.7h1.0M252.6 95.1h1.0M239.6 91.8h1.0M245.8 86.0h1.0M249.7 94.6h1.0M257.2 97.9h1.0M255.8 97.8h1.0M261.9 93.6h1.0M244.2 97.4h1.0M258.4 97.3h1.0M256.7 99.5h1.0M254.1 90.8h1.0M247.3 87.0h1.0M257.8 92.6h1.0M245.0 95.1h1.0M244.9 86.7h1.0M258.3 94.6h1.0M250.5 98.6h1.0M249.4 98.2h1.0M260.3 91.9h1.0M254.2 95.7h1.0M243.6 102.1h1.0M251.8 98.1h1.0M253.8 94.5h1.0M241.8 95.1h1.0M244.4 101.7h1.0M254.3 92.5h1.0M248.2 100.1h1.0M240.5 95.9h1.0M252.0 91.0h1.0M258.7 93.2h1.0M258.7 96.0h1.0M246.3 94.6h1.0M258.3 90.8h1.0M244.9 94.6h1.0M255.0 97.8h1.0M243.8 89.7h1.0M250.2 94.0h1.0M253.0 88.1h1.0M247.2 90.0h1.0M262.7 85.7h1.0M244.1 92.7h1.0M238.0 93.0h1.0M245.2 88.0h1.0M247.3 100.9h1.0M251.9 101.1h1.0M260.2 95.6h1.0M248.7 85.1h1.0M235.8 96.0h1.0M251.4 95.8h1.0M244.5 93.7h1.0M243.0 98.9h1.0M251.5 85.9h1.0M246.6 100.5h1.0M243.2 90.0h1.0M243.7 92.5h1.0M251.5 94.2h1.0M252.0 92.4h1.0M255.6 101.4h1.0M244.4 96.3h1.0M253.1 95.8h1.0M250.6 97.2h1.0M249.3 92.2h1.0M245.3 98.4h1.0M247.1 87.0h1.0M247.4 92.7h1.0" stroke="#c6c6c6" stroke-width="1.0" fill="none"/>
<path d="M252.0 96.5h1.0M247.4 97.0h1.0M250.8 97.6h1.0M248.8 95.9h1.0M251.7 97.6h1.0M247.0 94.5h1.0M250.3 94.2h1.0M247.9 94.1h1.0M250.2 98.4h1.0M250.1 96.7h1.0M248.8 95.0h1.0M249.9 94.8h1.0M246.6 94.6h1.0M256.1 94.6h1.0M247.0 99.1h1.0M251.1 95.3h1.0M246.4 94.0h1.0M249.5 94.3h1.0M247.7 95.9h1.0M246.9 96.8h1.0M250.0 93.8h1.0M246.4 95.3h1.0M250.8 91.7h1.0M253.9 94.1h1.0M246.4 97.0h1.0M247.5 92.8h1.0M246.7 92.7h1.0M249.3 92.5h1.0M250.6 92.6h1.0M249.7 90.2h1.0M248.7 94.4h1.0M251.4 93.8h1.0M250.2 95.2h1.0M247.9 95.6h1.0M250.6 93.5h1.0M247.1 97.0h1.0M252.4 94.9h1.0M252.4 97.4h1.0M249.6 95.7h1.0M251.3 95.5h1.0M249.7 93.7h1.0M251.7 95.0h1.0M253.8 95.4h1.0M250.2 92.1h1.0M249.7 95.1h1.0" stroke="#999" stroke-width="1.0" fill="none"/>
</g>
<path d="M249.9 102.2h0.9M245.9 102.2h0.9M231.2 102.2h0.9M244.7 102.2h0.9M251.7 102.2h0.9M261.7 102.2h0.9M243.0 102.2h0.9M254.3 102.2h0.9M242.0 102.2h0.9M257.1 102.2h0.9M249.2 102.2h0.9M250.8 102.2h0.9M253.2 102.2h0.9M246.3 102.2h0.9M246.3 102.2h0.9M257.4 102.2h0.9M241.2 102.2h0.9M244.4 102.2h0.9M256.1 102.2h0.9M255.7 102.2h0.9M245.3 102.2h0.9M245.6 102.2h0.9M251.5 102.2h0.9M263.5 102.2h0.9M260.8 102.2h0.9M248.7 102.2h0.9M247.0 102.2h0.9M250.1 102.2h0.9M238.8 102.2h0.9M252.6 102.2h0.9M248.0 102.2h0.9M257.9 102.2h0.9M245.3 102.2h0.9M252.9 102.2h0.9M246.6 102.2h0.9M247.1 102.2h0.9M262.8 102.2h0.9M244.7 102.2h0.9M250.1 102.2h0.9M253.4 102.2h0.9M263.7 102.2h0.9M252.9 102.2h0.9M247.9 102.2h0.9M252.6 102.2h0.9M262.7 102.2h0.9M254.6 102.2h0.9M255.3 102.2h0.9M266.2 102.2h0.9M244.9 102.2h0.9M258.7 102.2h0.9" stroke="#777" stroke-width="0.9" fill="none"/>
<text x="276.3" y="23.8" font-size="5" font-family="Liberation Serif" font-weight="bold" text-anchor="start" fill="#555">1</text>
<text x="330.0" y="23.8" font-size="5" font-family="Liberation Serif" font-weight="bold" text-anchor="start" fill="#555">2</text>
<text x="276.3" y="85.5" font-size="5" font-family="Liberation Serif" font-weight="bold" text-anchor="start" fill="#555">3</text>
<text x="330.0" y="85.5" font-size="5" font-family="Liberation Serif" font-weight="bold" text-anchor="start" fill="#555">4</text>
<text x="286.6" y="33.6" font-size="10.5" font-family="Liberation Serif" font-weight="bold" text-anchor="start" textLength="37.2" lengthAdjust="spacingAndGlyphs" fill="#000" stroke="#000" stroke-width="0.32">EMP 830</text>
<text x="193.3" y="69.7" font-size="10" font-family="Liberation Serif" font-weight="bold" text-anchor="start" textLength="7.2" lengthAdjust="spacingAndGlyphs" fill="#000" stroke="#000" stroke-width="0.32">H</text>
<text x="190.6" y="83.7" font-size="9.6" font-family="Liberation Serif" font-weight="bold" text-anchor="start" textLength="6.6" lengthAdjust="spacingAndGlyphs" fill="#000" stroke="#000" stroke-width="0.32">E</text>
<text x="282.7" y="78.9" font-size="9.4" font-family="Liberation Serif" font-weight="bold" text-anchor="start" textLength="7" lengthAdjust="spacingAndGlyphs" fill="#000" stroke="#000" stroke-width="0.32">D</text>
<text x="191.3" y="111" font-size="8.6" font-family="Liberation Serif" font-weight="bold" text-anchor="start" textLength="6.6" lengthAdjust="spacingAndGlyphs" fill="#000" stroke="#000" stroke-width="0.32">-1</text>
<text x="237.5" y="113.8" font-size="9.6" font-family="Liberation Serif" font-weight="bold" text-anchor="start" textLength="33" lengthAdjust="spacingAndGlyphs" fill="#000" stroke="#000" stroke-width="0.32">SS LOG</text>
<text x="311.3" y="112.1" font-size="9.1" font-family="Liberation Serif" font-weight="bold" text-anchor="start" textLength="24.3" lengthAdjust="spacingAndGlyphs" fill="#000" stroke="#000" stroke-width="0.32" letter-spacing="0.5">1000</text>
<path d="M318.79 111.20L321.29 106.99M324.61 111.20L327.11 106.99M330.44 111.20L332.94 106.99" stroke="#000" stroke-width="0.7" fill="none"/>
<text x="186.8" y="40.4" font-size="9.1" font-family="Liberation Serif" font-weight="bold" text-anchor="start" transform="rotate(-90 186.8 40.4)" textLength="23.8" lengthAdjust="spacingAndGlyphs" fill="#000" stroke="#000" stroke-width="0.32" letter-spacing="0.5">1000</text>
<path d="M194.10 39.50L196.60 34.96M199.80 39.50L202.30 34.96M205.50 39.50L208.00 34.96" stroke="#000" stroke-width="0.7" fill="none" transform="rotate(-90 186.8 40.4)"/>
<text x="185.9" y="102.3" font-size="8.6" font-family="Liberation Serif" font-weight="bold" text-anchor="start" transform="rotate(-90 185.9 102.3)" textLength="6.3" lengthAdjust="spacingAndGlyphs" fill="#000" stroke="#000" stroke-width="0.32">-1</text>
<line x1="360.6" y1="18" x2="514.2" y2="18" stroke="#696969" stroke-width="0.9" />
<line x1="360.1" y1="103.8" x2="514.2" y2="103.8" stroke="#3c3c3c" stroke-width="1.0" />
<line x1="360.6" y1="18" x2="360.6" y2="103.8" stroke="#3c3c3c" stroke-width="1.0" />
<line x1="514.2" y1="18" x2="514.2" y2="103.8" stroke="#696969" stroke-width="0.9" />
<line x1="371" y1="72.8" x2="456.6" y2="72.8" stroke="#696969" stroke-width="0.85" />
<line x1="360.6" y1="78.5" x2="514.2" y2="78.5" stroke="#696969" stroke-width="0.85" />
<line x1="456.6" y1="18" x2="456.6" y2="103.8" stroke="#696969" stroke-width="0.85" />
<line x1="463.6" y1="18" x2="463.6" y2="72.8" stroke="#696969" stroke-width="0.85" />
<line x1="360.6" y1="104.89999999999999" x2="514.2" y2="104.89999999999999" stroke="#555" stroke-width="0.9" stroke-dasharray="0.7 1.5"/>
<line x1="359.5" y1="18" x2="359.5" y2="103.8" stroke="#555" stroke-width="0.9" stroke-dasharray="0.7 1.5"/>
<g filter="url(#bl)">
<path d="M423.9 55.3h1.0M434.8 72.6h1.0M420.6 29.0h1.0M420.5 89.8h1.0M422.6 101.5h1.0M429.9 62.7h1.0M428.6 75.2h1.0M413.8 39.1h1.0M410.4 66.6h1.0M408.7 82.7h1.0M421.4 84.0h1.0M420.0 71.6h1.0M422.2 91.9h1.0M425.3 62.9h1.0M419.2 80.7h1.0M404.0 96.0h1.0M409.6 60.8h1.0M433.4 97.0h1.0M426.1 38.0h1.0M420.0 44.0h1.0M432.9 74.2h1.0M420.8 50.2h1.0M413.7 53.9h1.0M422.6 71.2h1.0M405.3 78.3h1.0M412.7 96.6h1.0M441.0 77.5h1.0M400.2 40.0h1.0M438.6 94.8h1.0M404.2 70.0h1.0M421.5 89.4h1.0M416.7 70.3h1.0M422.3 91.0h1.0M426.3 101.0h1.0M437.4 58.3h1.0M432.0 39.1h1.0M418.6 92.4h1.0M438.6 31.3h1.0M420.8 81.0h1.0M421.1 52.4h1.0M442.5 65.3h1.0M404.9 101.7h1.0M421.6 72.3h1.0M426.5 30.3h1.0M426.1 73.1h1.0M432.2 39.5h1.0M441.3 51.2h1.0M428.0 98.7h1.0M430.3 62.0h1.0M417.4 66.4h1.0M415.1 69.3h1.0M413.0 73.8h1.0M433.5 59.8h1.0M418.9 81.2h1.0M423.6 100.2h1.0M431.0 66.5h1.0M421.6 58.6h1.0M422.6 70.8h1.0M436.0 74.7h1.0M424.6 32.4h1.0M415.6 78.1h1.0M415.4 54.0h1.0M418.9 29.6h1.0M408.1 32.5h1.0M412.1 46.5h1.0M401.3 61.7h1.0M416.1 54.9h1.0M418.4 51.1h1.0M414.3 50.2h1.0M432.3 55.8h1.0M423.3 70.0h1.0M420.8 82.3h1.0M420.5 87.3h1.0M429.2 45.6h1.0M426.9 79.5h1.0M432.3 35.5h1.0M419.3 89.5h1.0M430.7 60.4h1.0M426.5 52.8h1.0M418.5 76.0h1.0M430.8 44.6h1.0M416.2 36.9h1.0M417.0 87.5h1.0M421.9 89.9h1.0M426.1 87.6h1.0M430.0 75.4h1.0M426.0 37.6h1.0M414.8 49.5h1.0M425.0 53.6h1.0M415.8 58.8h1.0M414.5 95.9h1.0M427.7 39.5h1.0M445.6 92.9h1.0M423.7 100.8h1.0M401.8 96.4h1.0M432.3 44.4h1.0M422.5 76.9h1.0M405.0 66.3h1.0M420.9 44.8h1.0M431.4 33.0h1.0M416.4 87.8h1.0M418.9 31.3h1.0M435.0 96.2h1.0M414.7 94.2h1.0M433.0 29.0h1.0M415.7 83.0h1.0M426.8 76.9h1.0M430.0 66.7h1.0M403.8 73.2h1.0M434.5 53.2h1.0M422.7 63.2h1.0M441.8 85.7h1.0M419.3 67.5h1.0M428.0 88.3h1.0M430.9 96.0h1.0M437.7 87.5h1.0M423.5 74.4h1.0M422.0 91.7h1.0M430.2 47.8h1.0M425.3 66.9h1.0M413.5 85.3h1.0M428.0 28.1h1.0M427.6 37.2h1.0M424.7 33.0h1.0M441.3 34.4h1.0M420.1 65.1h1.0M419.7 53.9h1.0M430.5 75.7h1.0M415.4 42.1h1.0M418.4 52.3h1.0M431.6 80.8h1.0M431.4 56.1h1.0M428.2 55.5h1.0M425.9 72.6h1.0M424.9 87.1h1.0M413.9 74.0h1.0M414.7 64.6h1.0M426.8 79.9h1.0M410.2 62.0h1.0M430.0 46.1h1.0M408.8 33.3h1.0M419.7 59.4h1.0M405.6 97.1h1.0M431.7 55.6h1.0M436.4 47.3h1.0M413.0 62.3h1.0M435.4 76.9h1.0M435.1 93.5h1.0M426.7 82.1h1.0M409.5 69.6h1.0M433.0 28.4h1.0M430.6 38.6h1.0M423.4 34.8h1.0M420.2 35.3h1.0M427.3 29.7h1.0M418.9 90.1h1.0M436.2 77.7h1.0M435.6 89.7h1.0M434.9 86.9h1.0M419.3 30.7h1.0M424.2 80.8h1.0M411.8 35.9h1.0M422.9 32.5h1.0M400.9 51.9h1.0M406.7 45.9h1.0M416.1 41.3h1.0M423.0 83.6h1.0M436.1 57.1h1.0M416.6 53.9h1.0M430.0 58.9h1.0M432.6 99.8h1.0M428.6 58.5h1.0M422.9 79.0h1.0M417.4 83.8h1.0M417.8 63.7h1.0M412.9 75.4h1.0M427.3 35.1h1.0M419.8 83.2h1.0M432.9 60.7h1.0M417.3 81.1h1.0M425.9 42.7h1.0M429.9 71.2h1.0M420.3 79.0h1.0M429.3 98.4h1.0M418.8 58.5h1.0M437.2 91.0h1.0M416.6 44.1h1.0M419.2 29.7h1.0M413.8 40.7h1.0M424.2 54.6h1.0M415.9 38.6h1.0M437.7 101.2h1.0M410.3 62.5h1.0M424.6 89.6h1.0M428.2 63.5h1.0M412.1 81.2h1.0M428.9 82.1h1.0M415.5 98.9h1.0M416.3 45.3h1.0M424.4 81.0h1.0M412.2 91.0h1.0M401.7 45.9h1.0M425.7 41.8h1.0M429.8 80.0h1.0M435.8 46.8h1.0M407.3 91.8h1.0M419.2 81.8h1.0M432.1 34.3h1.0M438.0 49.5h1.0M432.8 54.3h1.0M410.6 28.5h1.0M416.1 52.7h1.0M413.0 43.5h1.0M427.3 71.2h1.0M432.0 68.2h1.0M420.4 36.8h1.0M420.8 36.3h1.0M436.8 93.5h1.0M426.6 97.5h1.0M420.7 55.6h1.0M425.2 49.8h1.0M407.3 77.9h1.0M413.3 47.6h1.0M408.9 83.7h1.0M436.7 67.6h1.0M419.6 36.4h1.0M414.2 81.0h1.0M423.3 78.1h1.0M417.5 75.7h1.0M420.6 74.6h1.0M431.6 76.4h1.0M440.9 37.1h1.0M427.7 52.5h1.0M420.8 81.2h1.0M413.2 75.8h1.0M416.1 61.8h1.0M420.7 33.1h1.0M428.4 80.8h1.0M423.3 82.6h1.0M411.2 54.5h1.0M422.1 92.4h1.0M432.2 31.1h1.0M415.9 84.7h1.0M422.8 54.1h1.0M418.2 68.0h1.0M431.3 85.0h1.0M412.0 36.3h1.0M437.6 48.0h1.0M426.7 85.5h1.0M425.7 81.7h1.0M425.4 58.7h1.0M428.6 82.9h1.0M429.3 71.7h1.0M408.6 38.8h1.0M418.0 66.9h1.0M426.7 69.9h1.0M425.1 85.7h1.0M429.8 30.2h1.0M429.5 98.1h1.0M404.2 56.3h1.0M411.2 74.8h1.0M418.9 100.1h1.0M419.9 91.5h1.0M415.7 63.7h1.0M410.8 28.2h1.0M413.9 84.9h1.0M417.2 66.6h1.0M413.6 62.0h1.0M427.0 30.7h1.0M433.9 64.9h1.0M416.8 69.8h1.0M414.9 98.8h1.0M427.0 86.5h1.0M419.8 74.0h1.0M431.5 45.2h1.0M425.8 33.7h1.0M401.9 51.8h1.0M417.7 92.2h1.0M421.3 91.3h1.0M418.2 72.4h1.0M436.4 82.6h1.0M416.4 53.4h1.0M430.6 91.6h1.0M402.5 60.3h1.0M423.5 36.1h1.0M412.1 31.2h1.0M428.6 39.9h1.0M426.0 64.7h1.0M419.3 59.2h1.0M411.9 75.9h1.0M419.4 83.9h1.0M432.9 57.6h1.0M431.6 81.1h1.0M441.4 55.1h1.0M415.0 72.0h1.0M431.4 44.5h1.0M429.5 85.8h1.0M423.1 38.6h1.0M417.0 43.4h1.0M424.5 40.6h1.0M418.3 30.0h1.0M426.3 36.1h1.0M428.4 32.4h1.0M432.6 29.7h1.0M413.8 79.9h1.0M426.1 31.8h1.0M415.2 30.0h1.0M428.4 99.3h1.0M423.8 63.0h1.0M427.1 40.2h1.0M416.7 37.1h1.0M416.9 31.8h1.0M421.9 86.1h1.0M415.5 62.3h1.0M430.3 46.4h1.0M419.7 47.6h1.0M428.3 53.4h1.0M410.8 34.9h1.0M412.7 71.7h1.0M400.3 28.3h1.0M427.0 40.6h1.0M423.8 30.7h1.0M436.0 94.4h1.0M427.6 42.8h1.0M433.6 87.3h1.0M421.2 95.7h1.0M425.3 50.5h1.0M422.1 72.8h1.0M426.8 49.7h1.0M421.7 90.7h1.0M430.1 52.7h1.0M429.2 78.2h1.0M428.3 82.6h1.0M420.5 82.2h1.0M429.1 96.2h1.0M412.7 54.8h1.0M417.1 85.5h1.0M426.5 63.5h1.0M422.3 81.2h1.0M428.7 72.7h1.0M420.7 63.9h1.0M413.9 39.4h1.0M422.5 62.5h1.0M421.0 84.0h1.0M421.1 45.5h1.0M419.2 90.3h1.0M410.9 92.4h1.0M407.9 61.2h1.0M435.2 52.6h1.0M413.7 55.3h1.0M431.6 98.5h1.0M427.2 35.7h1.0M418.9 34.0h1.0M421.1 75.9h1.0M423.2 39.3h1.0M426.0 75.6h1.0M421.8 45.0h1.0M422.3 99.4h1.0M425.3 59.0h1.0M434.9 85.6h1.0M409.8 67.5h1.0M412.8 41.9h1.0M424.7 88.9h1.0M426.4 36.3h1.0M447.3 42.7h1.0M426.7 93.9h1.0M432.1 44.4h1.0M428.4 89.2h1.0M412.9 84.2h1.0M414.0 92.3h1.0M415.7 60.9h1.0M433.6 36.2h1.0M429.5 88.1h1.0M412.1 43.2h1.0M412.8 81.7h1.0M420.4 33.7h1.0M416.8 33.3h1.0M432.0 68.8h1.0M422.1 75.9h1.0M413.1 72.7h1.0M425.0 101.5h1.0M431.6 52.7h1.0M419.4 44.1h1.0M424.7 40.2h1.0M436.8 92.6h1.0M416.6 100.8h1.0M406.3 67.5h1.0M408.8 58.9h1.0M442.3 98.1h1.0M416.5 63.7h1.0M424.4 101.6h1.0M413.4 95.9h1.0M417.2 41.6h1.0M444.3 35.1h1.0M421.6 66.3h1.0M415.2 75.2h1.0M438.1 48.4h1.0M426.9 59.9h1.0M414.3 83.1h1.0M435.9 49.2h1.0M429.3 58.3h1.0M427.8 33.7h1.0M432.2 79.7h1.0M436.2 100.1h1.0M442.2 55.5h1.0" stroke="#d6d6d6" stroke-width="1.0" fill="none"/>
<path d="M420.0 56.2h1.0M428.0 36.2h1.0M424.0 40.0h1.0M420.0 56.2h1.0M417.0 26.2h1.0M426.0 53.8h1.0M416.0 51.2h1.0M436.0 56.2h1.0M422.0 36.2h1.0M420.0 52.5h1.0M424.0 56.2h1.0M427.0 57.5h1.0M401.0 57.5h1.0M423.0 63.8h1.0M423.0 48.8h1.0M424.0 45.0h1.0M421.0 47.5h1.0M427.0 55.0h1.0M414.0 50.0h1.0M424.0 35.0h1.0M427.0 38.8h1.0M406.0 53.8h1.0M416.0 63.8h1.0M432.0 53.8h1.0M413.0 57.5h1.0M413.0 48.8h1.0M427.0 67.5h1.0M423.0 71.2h1.0M412.0 32.5h1.0M424.0 70.0h1.0M416.0 40.0h1.0M417.0 42.5h1.0M421.0 57.5h1.0M433.0 65.0h1.0M422.0 41.2h1.0M426.0 30.0h1.0M428.0 56.2h1.0M428.0 38.8h1.0M421.0 63.8h1.0M410.0 65.0h1.0M417.0 66.2h1.0M424.0 37.5h1.0M419.0 47.5h1.0M434.0 55.0h1.0M420.0 45.0h1.0M415.0 25.0h1.0M420.0 67.5h1.0M419.0 60.0h1.0M439.0 55.0h1.0M429.0 55.0h1.0M416.0 46.2h1.0M441.0 60.0h1.0M420.0 42.5h1.0M426.0 56.2h1.0M426.0 55.0h1.0M422.0 51.2h1.0M427.0 63.8h1.0M427.0 50.0h1.0M407.0 35.0h1.0M411.0 60.0h1.0M422.0 55.0h1.0M421.0 48.8h1.0M431.0 48.8h1.0M432.0 58.8h1.0M424.0 56.2h1.0M421.0 56.2h1.0M419.0 68.8h1.0M421.0 46.2h1.0M419.0 70.0h1.0M426.0 53.8h1.0M427.0 61.2h1.0M428.0 38.8h1.0M420.0 60.0h1.0M427.0 60.0h1.0M421.0 55.0h1.0M425.0 58.8h1.0M427.0 55.0h1.0M420.0 60.0h1.0M422.0 51.2h1.0M429.0 63.8h1.0M419.0 47.5h1.0M415.0 61.2h1.0M423.0 50.0h1.0M408.0 38.8h1.0M418.0 37.5h1.0M420.0 28.8h1.0M419.0 55.0h1.0M432.0 71.2h1.0M416.0 63.8h1.0M440.0 53.8h1.0M418.0 50.0h1.0M429.0 30.0h1.0M431.0 52.5h1.0M423.0 65.0h1.0M412.0 68.8h1.0M421.0 30.0h1.0M420.0 62.5h1.0M427.0 43.8h1.0M424.0 41.2h1.0M418.0 38.8h1.0M422.0 46.2h1.0M409.0 72.5h1.0M416.0 55.0h1.0M416.0 60.0h1.0M421.0 60.0h1.0M428.0 48.8h1.0M415.0 45.0h1.0M417.0 63.8h1.0M420.0 36.2h1.0M423.0 75.0h1.0M406.0 37.5h1.0M420.0 47.5h1.0M420.0 30.0h1.0M429.0 51.2h1.0M419.0 57.5h1.0M416.0 61.2h1.0M421.0 53.8h1.0M432.0 60.0h1.0M416.0 63.8h1.0M413.0 43.8h1.0M427.0 38.8h1.0M422.0 38.8h1.0M430.0 61.2h1.0M415.0 55.0h1.0M426.0 38.8h1.0M430.0 53.8h1.0M424.0 46.2h1.0M428.0 65.0h1.0M424.0 63.8h1.0M417.0 48.8h1.0M407.0 63.8h1.0M407.0 33.8h1.0M426.0 68.8h1.0M433.0 40.0h1.0M428.0 57.5h1.0M418.0 58.8h1.0M436.0 46.2h1.0M420.0 61.2h1.0M423.0 72.5h1.0M423.0 53.8h1.0M428.0 40.0h1.0M428.0 35.0h1.0M427.0 43.8h1.0M435.0 48.8h1.0M419.0 31.2h1.0M427.0 55.0h1.0M422.0 63.8h1.0M423.0 27.5h1.0M430.0 55.0h1.0M416.0 36.2h1.0M427.0 56.2h1.0M418.0 46.2h1.0M424.0 48.8h1.0M421.0 63.8h1.0M418.0 46.2h1.0M421.0 52.5h1.0M431.0 60.0h1.0M414.0 42.5h1.0M444.0 42.5h1.0M414.0 53.8h1.0M428.0 55.0h1.0M420.0 33.8h1.0M420.0 37.5h1.0M433.0 70.0h1.0M414.0 50.0h1.0M417.0 62.5h1.0M425.0 47.5h1.0M427.0 56.2h1.0M418.0 62.5h1.0M405.0 70.0h1.0M434.0 43.8h1.0M425.0 51.2h1.0M424.0 38.8h1.0M422.0 63.8h1.0M410.0 61.2h1.0M425.0 45.0h1.0M425.0 50.0h1.0M428.0 46.2h1.0M415.0 57.5h1.0M426.0 36.2h1.0M426.0 51.2h1.0M434.0 53.8h1.0M433.0 45.0h1.0M419.0 50.0h1.0M414.0 35.0h1.0M419.0 41.2h1.0M416.0 70.0h1.0M427.0 58.8h1.0M415.0 42.5h1.0M419.0 65.0h1.0M415.0 53.8h1.0M436.0 61.2h1.0M421.0 63.8h1.0M422.0 58.8h1.0M433.0 40.0h1.0M433.0 45.0h1.0M420.0 27.5h1.0M419.0 35.0h1.0M423.0 58.8h1.0M416.0 35.0h1.0M422.0 53.8h1.0M417.0 67.5h1.0M429.0 41.2h1.0M420.0 70.0h1.0M416.0 61.2h1.0M411.0 50.0h1.0M423.0 42.5h1.0M410.0 42.5h1.0M429.0 42.5h1.0M420.0 45.0h1.0M412.0 46.2h1.0M424.0 40.0h1.0M420.0 48.8h1.0M417.0 43.8h1.0M425.0 37.5h1.0M428.0 53.8h1.0M424.0 42.5h1.0M423.0 43.8h1.0M422.0 62.5h1.0M428.0 71.2h1.0M415.0 38.8h1.0M421.0 58.8h1.0M425.0 38.8h1.0M439.0 72.5h1.0M435.0 37.5h1.0M423.0 47.5h1.0M442.0 56.2h1.0M431.0 42.5h1.0M422.0 56.2h1.0M445.0 55.0h1.0M410.0 55.0h1.0M420.0 45.0h1.0M409.0 52.5h1.0M431.0 61.2h1.0M421.0 51.2h1.0M417.0 46.2h1.0M417.0 38.8h1.0M422.0 63.8h1.0M413.0 32.5h1.0M422.0 31.2h1.0M428.0 50.0h1.0M432.0 40.0h1.0M418.0 57.5h1.0M423.0 45.0h1.0M418.0 51.2h1.0M413.0 72.5h1.0M418.0 48.8h1.0M414.0 65.0h1.0M425.0 50.0h1.0M404.0 52.5h1.0M426.0 70.0h1.0M420.0 31.2h1.0M423.0 58.8h1.0M430.0 42.5h1.0M413.0 53.8h1.0M426.0 32.5h1.0M410.0 51.2h1.0M423.0 68.8h1.0M429.0 40.0h1.0M428.0 67.5h1.0M422.0 48.8h1.0M434.0 60.0h1.0M422.0 47.5h1.0M417.0 65.0h1.0M424.0 35.0h1.0M441.0 67.5h1.0M430.0 33.8h1.0M431.0 33.8h1.0M426.0 46.2h1.0M427.0 30.0h1.0M426.0 45.0h1.0M427.0 46.2h1.0M424.0 43.8h1.0M431.0 35.0h1.0M419.0 50.0h1.0M424.0 61.2h1.0M423.0 55.0h1.0M432.0 48.8h1.0M435.0 36.2h1.0M415.0 48.8h1.0M412.0 41.2h1.0M425.0 70.0h1.0M427.0 45.0h1.0M422.0 65.0h1.0M417.0 41.2h1.0M444.0 56.2h1.0M429.0 56.2h1.0M422.0 36.2h1.0M422.0 51.2h1.0M440.0 48.8h1.0M423.0 48.8h1.0M422.0 43.8h1.0M407.0 53.8h1.0M421.0 46.2h1.0M416.0 40.0h1.0M423.0 48.8h1.0M426.0 46.2h1.0M420.0 53.8h1.0M421.0 57.5h1.0M421.0 67.5h1.0M429.0 30.0h1.0M419.0 33.8h1.0M421.0 66.2h1.0M420.0 55.0h1.0M422.0 38.8h1.0M406.0 33.8h1.0M428.0 38.8h1.0M419.0 35.0h1.0M424.0 60.0h1.0M423.0 50.0h1.0M416.0 41.2h1.0M423.0 40.0h1.0M431.0 48.8h1.0M402.0 42.5h1.0M423.0 48.8h1.0M424.0 51.2h1.0M432.0 43.8h1.0M418.0 52.5h1.0M425.0 56.2h1.0M430.0 50.0h1.0M438.0 40.0h1.0M419.0 47.5h1.0M423.0 48.8h1.0M409.0 37.5h1.0M432.0 48.8h1.0M427.0 51.2h1.0M427.0 36.2h1.0M415.0 50.0h1.0M418.0 51.2h1.0M413.0 40.0h1.0M428.0 42.5h1.0M424.0 36.2h1.0M429.0 45.0h1.0M405.0 58.8h1.0M438.0 56.2h1.0M410.0 57.5h1.0M421.0 55.0h1.0M405.0 62.5h1.0M429.0 60.0h1.0M420.0 66.2h1.0M408.0 43.8h1.0M424.0 55.0h1.0M436.0 41.2h1.0M425.0 25.0h1.0M428.0 50.0h1.0M424.0 60.0h1.0M420.0 26.2h1.0M436.0 50.0h1.0M425.0 57.5h1.0M418.0 55.0h1.0M440.0 53.8h1.0M439.0 45.0h1.0M428.0 53.8h1.0M432.0 38.8h1.0M419.0 40.0h1.0M422.0 65.0h1.0M406.0 51.2h1.0M407.0 58.8h1.0M425.0 52.5h1.0M426.0 76.2h1.0M419.0 63.8h1.0M417.0 60.0h1.0M428.0 75.0h1.0M428.0 50.0h1.0M428.0 57.5h1.0M420.0 60.0h1.0M419.0 47.5h1.0M419.0 60.0h1.0M417.0 40.0h1.0M431.0 42.5h1.0M419.0 61.2h1.0M429.0 75.0h1.0M424.0 46.2h1.0M426.0 47.5h1.0M425.0 43.8h1.0M431.0 41.2h1.0M426.0 47.5h1.0M431.0 52.5h1.0M414.0 52.5h1.0M413.0 56.2h1.0M425.0 58.8h1.0M415.0 40.0h1.0M428.0 57.5h1.0M416.0 42.5h1.0M428.0 65.0h1.0M423.0 36.2h1.0M423.0 37.5h1.0M425.0 48.8h1.0M417.0 56.2h1.0M422.0 55.0h1.0M418.0 52.5h1.0M416.0 63.8h1.0M427.0 62.5h1.0M409.0 75.0h1.0M407.0 61.2h1.0M425.0 66.2h1.0M430.0 31.2h1.0M426.0 62.5h1.0M408.0 46.2h1.0M421.0 55.0h1.0M420.0 70.0h1.0M430.0 47.5h1.0M433.0 58.8h1.0M423.0 50.0h1.0M421.0 55.0h1.0M434.0 50.0h1.0" stroke="#cbcbcb" stroke-width="1.0" fill="none"/>
<path d="M411.6 96.5h1.0M410.5 98.8h1.0M422.4 83.9h1.0M417.5 97.1h1.0M431.8 102.0h1.0M432.5 90.5h1.0M425.1 94.6h1.0M418.4 94.7h1.0M408.7 98.2h1.0M417.3 96.1h1.0M426.5 99.8h1.0M417.2 91.5h1.0M427.8 94.5h1.0M415.8 91.8h1.0M433.0 96.4h1.0M429.7 95.0h1.0M412.0 86.2h1.0M432.7 92.9h1.0M424.2 99.3h1.0M426.1 92.3h1.0M417.8 102.1h1.0M418.5 89.3h1.0M424.9 90.7h1.0M415.8 90.2h1.0M422.3 87.1h1.0M422.8 98.7h1.0M434.3 93.1h1.0M435.9 100.6h1.0M425.8 89.0h1.0M426.2 96.9h1.0M427.6 99.8h1.0M429.1 95.7h1.0M421.9 97.1h1.0M426.5 100.7h1.0M419.8 92.3h1.0M419.5 91.3h1.0M410.4 95.7h1.0M421.6 90.9h1.0M425.7 94.2h1.0M427.7 91.5h1.0M415.0 86.7h1.0M422.3 91.6h1.0M421.2 101.2h1.0M425.7 92.1h1.0M429.0 95.5h1.0M422.7 98.4h1.0M430.2 92.8h1.0M419.3 94.2h1.0M426.8 97.9h1.0M447.6 98.2h1.0M426.8 95.9h1.0M436.9 98.3h1.0M413.0 98.7h1.0M428.4 95.3h1.0M415.1 102.3h1.0M417.2 86.6h1.0M408.3 95.4h1.0M428.4 97.9h1.0M425.3 96.4h1.0M418.8 95.6h1.0M414.5 101.4h1.0M413.2 92.4h1.0M408.6 99.3h1.0M423.6 92.5h1.0M427.8 91.3h1.0M408.5 95.1h1.0M404.8 94.4h1.0M415.4 88.2h1.0M421.4 97.6h1.0M415.4 91.9h1.0M430.2 97.1h1.0M437.4 102.5h1.0M422.0 92.8h1.0M422.4 91.1h1.0M418.3 87.8h1.0M414.1 97.9h1.0M419.0 99.9h1.0M421.3 93.4h1.0M425.2 94.0h1.0M417.8 96.1h1.0M412.2 97.8h1.0M415.7 92.5h1.0M437.4 93.5h1.0M415.8 91.2h1.0M419.0 92.3h1.0M414.9 93.0h1.0M442.4 101.6h1.0M413.7 95.3h1.0M426.9 94.8h1.0M408.2 94.0h1.0M417.7 94.8h1.0M413.0 91.5h1.0M429.1 89.5h1.0M425.4 95.9h1.0M400.6 100.4h1.0M428.3 102.1h1.0M418.3 87.9h1.0M424.6 91.4h1.0M415.1 93.4h1.0M431.7 99.8h1.0M428.5 95.3h1.0M439.4 97.6h1.0M414.0 95.9h1.0M414.6 93.1h1.0M421.3 100.7h1.0M412.1 95.9h1.0M418.9 96.1h1.0M420.9 90.9h1.0M418.5 100.3h1.0M424.9 100.7h1.0M415.2 92.5h1.0M434.6 89.8h1.0M434.6 94.3h1.0M423.8 97.5h1.0M421.5 95.6h1.0M434.9 100.1h1.0M428.2 99.7h1.0M414.2 91.3h1.0M432.3 98.6h1.0M413.2 93.0h1.0M417.3 83.9h1.0M434.8 96.1h1.0M421.9 96.9h1.0M427.1 96.6h1.0M417.2 99.6h1.0M433.2 102.0h1.0M440.0 86.3h1.0M426.4 97.1h1.0M417.4 96.9h1.0M414.4 96.0h1.0M424.3 94.1h1.0M412.8 92.9h1.0M435.4 97.4h1.0M429.7 99.4h1.0M425.6 99.9h1.0M416.1 97.7h1.0M426.5 93.5h1.0M417.2 97.0h1.0M420.3 100.2h1.0M414.3 97.7h1.0M415.7 98.4h1.0M423.9 95.1h1.0M420.8 102.0h1.0M430.4 102.3h1.0M411.8 98.9h1.0M413.9 100.8h1.0M413.8 91.3h1.0M419.2 97.8h1.0M422.5 95.8h1.0M435.7 89.1h1.0M416.3 98.4h1.0M409.6 95.5h1.0M425.9 98.8h1.0M407.0 97.2h1.0M414.7 94.0h1.0M419.8 96.3h1.0M429.8 95.7h1.0M418.8 96.8h1.0M421.2 99.1h1.0M421.0 99.4h1.0M409.4 100.8h1.0M419.6 94.6h1.0M416.1 96.9h1.0M418.9 100.4h1.0M428.8 95.1h1.0M424.6 95.7h1.0M423.8 94.4h1.0M433.6 102.3h1.0M421.2 101.0h1.0M410.9 94.8h1.0M414.8 95.8h1.0M426.4 92.8h1.0M420.5 95.5h1.0M415.4 90.7h1.0M417.5 93.9h1.0M418.9 95.5h1.0M433.4 97.4h1.0M432.9 100.3h1.0M420.4 102.0h1.0M419.5 101.1h1.0M418.9 95.9h1.0M410.6 97.7h1.0M430.5 91.3h1.0M417.9 90.4h1.0M408.1 98.1h1.0M408.8 100.2h1.0M431.2 88.2h1.0M409.3 98.6h1.0M422.1 100.2h1.0M420.9 94.1h1.0M412.3 91.8h1.0M426.8 83.5h1.0M413.7 87.8h1.0M419.2 93.4h1.0M433.2 89.8h1.0M414.4 97.2h1.0M419.9 102.0h1.0M419.9 95.5h1.0M430.4 98.5h1.0M425.1 99.6h1.0M411.9 97.6h1.0M418.7 99.3h1.0M426.6 88.6h1.0M422.3 93.6h1.0M433.7 92.5h1.0M418.9 96.2h1.0M419.1 93.3h1.0M419.4 100.9h1.0M424.3 89.5h1.0M420.7 88.3h1.0M434.2 96.4h1.0M422.6 94.0h1.0M423.9 98.9h1.0M432.5 97.8h1.0M428.5 93.9h1.0M415.7 89.4h1.0M407.0 97.5h1.0M411.8 93.0h1.0M417.4 91.6h1.0M413.6 91.2h1.0M417.5 95.8h1.0M416.9 92.9h1.0M401.8 99.2h1.0M423.3 97.7h1.0M421.7 98.3h1.0M413.0 101.7h1.0M422.7 92.4h1.0M438.1 97.8h1.0M419.6 93.6h1.0M424.5 95.9h1.0M418.6 97.8h1.0M423.7 98.0h1.0M417.6 93.6h1.0M429.3 91.3h1.0M419.5 99.8h1.0M419.8 86.7h1.0M424.2 95.9h1.0M426.6 97.9h1.0M416.4 102.5h1.0M413.2 92.9h1.0M431.1 91.9h1.0M424.4 97.3h1.0M426.8 97.5h1.0M419.2 89.7h1.0M418.5 90.4h1.0M420.9 93.4h1.0M424.9 100.0h1.0M407.6 92.6h1.0M419.8 98.4h1.0M419.4 98.9h1.0M431.2 98.7h1.0M435.3 98.1h1.0M421.0 95.9h1.0M419.0 98.6h1.0M422.9 97.1h1.0M421.0 86.3h1.0M426.6 93.9h1.0M427.5 96.7h1.0M421.8 100.3h1.0M412.9 98.2h1.0M432.8 91.1h1.0M417.9 92.2h1.0M419.4 99.1h1.0M437.7 94.3h1.0M424.6 101.2h1.0M420.7 93.9h1.0M415.9 98.3h1.0M427.4 97.6h1.0M416.8 99.1h1.0M418.7 98.1h1.0M419.2 93.5h1.0M423.4 99.1h1.0M429.3 92.0h1.0M429.0 96.6h1.0M428.3 91.5h1.0M436.4 100.0h1.0M425.8 99.5h1.0M414.3 95.2h1.0M447.7 97.7h1.0M424.6 100.7h1.0M422.9 98.2h1.0M417.3 94.0h1.0M435.1 96.6h1.0M422.7 94.8h1.0M419.2 93.3h1.0M421.3 88.6h1.0M413.3 92.3h1.0M423.7 90.7h1.0M413.9 99.0h1.0M423.9 91.9h1.0M428.2 94.8h1.0M432.9 95.5h1.0M438.3 93.9h1.0M426.3 97.9h1.0M423.8 97.8h1.0M437.2 91.5h1.0M417.1 96.1h1.0M416.5 93.3h1.0M429.9 95.6h1.0M428.9 96.6h1.0M427.4 95.8h1.0M411.8 90.9h1.0M424.8 90.5h1.0M424.1 91.7h1.0" stroke="#c6c6c6" stroke-width="1.0" fill="none"/>
<path d="M421.5 98.5h1.0M420.0 95.0h1.0M421.4 93.3h1.0M422.0 94.7h1.0M421.8 93.9h1.0M420.1 95.5h1.0M418.1 94.3h1.0M425.3 94.5h1.0M421.3 95.2h1.0M421.8 91.3h1.0M423.2 98.0h1.0M419.7 96.1h1.0M422.5 95.9h1.0M423.2 95.0h1.0M420.6 93.2h1.0M421.2 93.3h1.0M417.2 93.1h1.0M423.0 95.0h1.0M423.6 94.9h1.0M420.4 92.9h1.0M420.8 95.9h1.0M422.7 96.1h1.0M419.0 95.9h1.0M422.8 93.3h1.0M420.7 94.3h1.0M422.7 95.8h1.0M423.8 94.6h1.0M420.4 93.9h1.0M419.9 100.0h1.0M420.2 97.4h1.0M423.7 94.8h1.0M422.0 98.4h1.0M417.3 96.0h1.0M417.7 97.8h1.0M420.6 94.0h1.0M417.9 97.8h1.0M417.3 94.8h1.0M422.5 92.7h1.0M420.1 92.9h1.0M424.8 97.1h1.0M418.0 92.3h1.0M420.2 96.5h1.0M425.1 98.3h1.0M424.7 94.2h1.0M419.6 96.3h1.0" stroke="#999" stroke-width="1.0" fill="none"/>
</g>
<path d="M430.8 102.9h0.9M411.5 102.9h0.9M424.4 102.9h0.9M433.7 102.9h0.9M430.2 102.9h0.9M415.2 102.9h0.9M425.3 102.9h0.9M421.3 102.9h0.9M412.5 102.9h0.9M416.5 102.9h0.9M424.0 102.9h0.9M420.3 102.9h0.9M422.4 102.9h0.9M421.5 102.9h0.9M435.1 102.9h0.9M424.2 102.9h0.9M424.0 102.9h0.9M425.9 102.9h0.9M416.5 102.9h0.9M412.8 102.9h0.9M420.3 102.9h0.9M420.8 102.9h0.9M416.0 102.9h0.9M422.0 102.9h0.9M421.8 102.9h0.9M425.5 102.9h0.9M417.1 102.9h0.9M417.8 102.9h0.9M417.8 102.9h0.9M422.0 102.9h0.9M415.2 102.9h0.9M417.1 102.9h0.9M418.3 102.9h0.9M428.0 102.9h0.9M411.5 102.9h0.9M425.6 102.9h0.9M433.2 102.9h0.9M426.8 102.9h0.9M420.2 102.9h0.9M427.9 102.9h0.9M437.1 102.9h0.9M425.6 102.9h0.9M421.1 102.9h0.9M424.6 102.9h0.9M406.1 102.9h0.9M421.0 102.9h0.9M434.1 102.9h0.9M418.4 102.9h0.9M433.8 102.9h0.9M414.1 102.9h0.9" stroke="#777" stroke-width="0.9" fill="none"/>
<text x="451.6" y="24" font-size="5" font-family="Liberation Serif" font-weight="bold" text-anchor="start" fill="#555">1</text>
<text x="508.70000000000005" y="24" font-size="5" font-family="Liberation Serif" font-weight="bold" text-anchor="start" fill="#555">2</text>
<text x="451.6" y="85.0" font-size="5" font-family="Liberation Serif" font-weight="bold" text-anchor="start" fill="#555">3</text>
<text x="508.70000000000005" y="85.0" font-size="5" font-family="Liberation Serif" font-weight="bold" text-anchor="start" fill="#555">4</text>
<text x="464.6" y="34.2" font-size="10.5" font-family="Liberation Serif" font-weight="bold" text-anchor="start" textLength="38" lengthAdjust="spacingAndGlyphs" fill="#000" stroke="#000" stroke-width="0.32">EMP 1528</text>
<text x="362.8" y="71.6" font-size="10" font-family="Liberation Serif" font-weight="bold" text-anchor="start" textLength="8" lengthAdjust="spacingAndGlyphs" fill="#000" stroke="#000" stroke-width="0.32">H</text>
<text x="362.5" y="82.2" font-size="9.6" font-family="Liberation Serif" font-weight="bold" text-anchor="start" textLength="6.3" lengthAdjust="spacingAndGlyphs" fill="#000" stroke="#000" stroke-width="0.32">E</text>
<text x="457.8" y="79.8" font-size="9.4" font-family="Liberation Serif" font-weight="bold" text-anchor="start" textLength="7" lengthAdjust="spacingAndGlyphs" fill="#000" stroke="#000" stroke-width="0.32">D</text>
<text x="362.3" y="111.4" font-size="8.6" font-family="Liberation Serif" font-weight="bold" text-anchor="start" textLength="6.3" lengthAdjust="spacingAndGlyphs" fill="#000" stroke="#000" stroke-width="0.32">-1</text>
<text x="421.3" y="114.9" font-size="9.6" font-family="Liberation Serif" font-weight="bold" text-anchor="start" textLength="32.5" lengthAdjust="spacingAndGlyphs" fill="#000" stroke="#000" stroke-width="0.32">SS LOG</text>
<text x="492" y="112.8" font-size="9.1" font-family="Liberation Serif" font-weight="bold" text-anchor="start" textLength="24.2" lengthAdjust="spacingAndGlyphs" fill="#000" stroke="#000" stroke-width="0.32" letter-spacing="0.5">1000</text>
<path d="M499.45 111.90L501.95 107.36M505.25 111.90L507.75 107.36M511.05 111.90L513.55 107.36" stroke="#000" stroke-width="0.7" fill="none"/>
<text x="358.1" y="40" font-size="9.1" font-family="Liberation Serif" font-weight="bold" text-anchor="start" transform="rotate(-90 358.1 40)" textLength="24.6" lengthAdjust="spacingAndGlyphs" fill="#000" stroke="#000" stroke-width="0.32" letter-spacing="0.5">1000</text>
<path d="M365.70 39.10L368.20 34.56M371.60 39.10L374.10 34.56M377.50 39.10L380.00 34.56" stroke="#000" stroke-width="0.7" fill="none" transform="rotate(-90 358.1 40)"/>
<text x="357.6" y="103.2" font-size="8.6" font-family="Liberation Serif" font-weight="bold" text-anchor="start" transform="rotate(-90 357.6 103.2)" textLength="6" lengthAdjust="spacingAndGlyphs" fill="#000" stroke="#000" stroke-width="0.32">-1</text>
<line x1="22" y1="118.6" x2="165.7" y2="118.6" stroke="#5c5c5c" stroke-width="0.8" />
<line x1="22" y1="118.6" x2="22" y2="205.2" stroke="#333" stroke-width="1.1" />
<line x1="21.5" y1="205.2" x2="165.7" y2="205.2" stroke="#333" stroke-width="1.1" />
<line x1="165.7" y1="118.6" x2="165.7" y2="205.2" stroke="#5c5c5c" stroke-width="0.8" />
<line x1="157.39999999999998" y1="118.69999999999999" x2="165.7" y2="118.69999999999999" stroke="#222" stroke-width="1.3" />
<line x1="22" y1="206.39999999999998" x2="165.7" y2="206.39999999999998" stroke="#444" stroke-width="1" stroke-dasharray="0.8 1.4"/>
<line x1="22" y1="184.2" x2="54.2" y2="184.2" stroke="#696969" stroke-width="0.9" />
<line x1="54.2" y1="182.39999999999998" x2="54.2" y2="185.39999999999998" stroke="#696969" stroke-width="0.9" />
<line x1="54.2" y1="188" x2="131.7" y2="188" stroke="#696969" stroke-width="0.9" />
<line x1="54.2" y1="185.8" x2="54.2" y2="188.5" stroke="#696969" stroke-width="0.9" />
<rect x="131.0" y="186.9" width="1.4" height="1.6" fill="#444"/>
<path d="M22.0 175.0 L23.1 175.0 L23.1 177.5 L24.2 177.5 L24.2 175.0 L25.4 175.0 L24.3 175.0 L24.3 165.6 L25.8 165.6 L25.8 174.5 L27.3 174.5 L27.3 163.8 L28.8 163.8 L28.8 168.5 L30.3 168.5 L30.3 163.1 L31.9 163.1 L31.9 176.9 L33.5 176.9 L33.3 176.9 L33.3 145.8 L34.6 145.8 L34.6 161.6 L35.9 161.6 L35.9 152.3 L37.2 152.3 L37.2 151.0 L38.7 151.0 L38.7 156.0 L39.9 156.0 L39.9 162.4 L41.3 162.4 L40.0 162.4 L40.0 167.8 L41.3 167.8 L41.3 173.9 L42.5 173.9" stroke="#3a3a3a" stroke-width="0.95" fill="none"/>
<path d="M42.5 175.0 L44.0 176.5 L46.7 185.0 L47.5 186.5 L49.2 198.3 L51.0 199.2 L54.0 200.6" stroke="#3a3a3a" stroke-width="0.9" fill="none"/>
<path d="M54.0 205.2V200.6H57.0V205.2M58.2 205.2V200.6H61.2V205.2M62.4 205.2V200.6H64.2V205.2M65.0 205.2V200.6H67.4V205.2M68.6 205.2V200.6H70.4V205.2M70.9 205.2V200.6H72.7V205.2M73.5 205.2V200.6H76.9V205.2M77.4 205.2V200.6H80.8V205.2M82.0 205.2V200.6H83.8V205.2M85.0 205.2V200.6H87.4V205.2M87.9 205.2V200.6H90.3V205.2M91.1 205.2V200.6H94.1V205.2M94.6 205.2V200.6H98.0V205.2M98.5 205.2V200.6H100.3V205.2M100.8 205.2V200.6H104.2V205.2M132.7 205.2V200.6H137.5V205.2M138.6 205.2V200.6H143.8V205.2" stroke="#3a3a3a" stroke-width="0.8" fill="none"/>
<path d="M102.0 200.6 L102.0 195.5 L102.9 195.5 L102.9 194.2 L103.8 194.2 L103.8 195.5 L104.7 195.5 L104.7 195.5 L105.6 195.5 L105.6 199.0 L106.7 199.0 L106.7 195.5 L108.1 195.5 L108.1 199.0 L109.5 199.0 L109.5 195.5 L110.4 195.5 L110.4 199.0 L111.3 199.0 L111.3 199.5 L112.4 199.5 L112.4 194.5 L113.5 194.5 L113.5 199.5 L114.4 199.5 L114.4 195.5 L115.5 195.5 L115.5 194.5 L116.6 194.5 L116.6 199.0 L118.0 199.0 L118.0 196.0 L118.9 196.0 L118.9 196.0 L120.3 196.0 L120.3 199.0 L121.4 199.0 L121.4 194.5 L122.5 194.5 L122.5 199.0 L123.6 199.0 L123.6 199.5 L125.0 199.5 L125.0 199.0 L125.9 199.0 L125.9 199.5 L127.0 199.5 L127.0 199.0 L127.9 199.0 L127.9 194.5 L129.0 194.5 L129.0 194.5 L130.4 194.5 L130.4 199.0 L131.5 199.0 L131.5 200.6" stroke="#3a3a3a" stroke-width="0.75" fill="none"/>
<path d="M56.7 200.6V195M83.7 200.6V194.2M86.5 200.6V196M88.5 200.6V196M92.7 200.6V188.8M97.1 200.6V194.2M99 200.6V195.2M106.7 200.6V190M111.2 200.6V190M116.3 200.6V189.4M125.4 200.6V189.4M129.2 200.6V189.4" stroke="#333" stroke-width="0.85" fill="none"/>
<text x="26.7" y="184.2" font-size="8.8" font-family="Liberation Serif" font-weight="bold" text-anchor="start" textLength="6" lengthAdjust="spacingAndGlyphs" fill="#000" stroke="#000" stroke-width="0.32">K</text>
<text x="55.9" y="187.3" font-size="8.8" font-family="Liberation Serif" font-weight="bold" text-anchor="start" textLength="5.2" lengthAdjust="spacingAndGlyphs" fill="#000" stroke="#000" stroke-width="0.32">L</text>
<text x="20.9" y="128.2" font-size="9" font-family="Liberation Serif" font-weight="bold" text-anchor="start" transform="rotate(-90 20.9 128.2)" textLength="9.3" lengthAdjust="spacingAndGlyphs" fill="#000" stroke="#000" stroke-width="0.32">16</text>
<text x="18" y="205.5" font-size="9" font-family="Liberation Serif" font-weight="bold" text-anchor="start" transform="rotate(-90 18 205.5)" fill="#000" stroke="#000" stroke-width="0.32">0</text>
<path d="M19.00 204.60L21.50 200.46" stroke="#000" stroke-width="0.7" fill="none" transform="rotate(-90 18 205.5)"/>
<text x="10.1" y="174.4" font-size="9" font-family="Liberation Serif" font-weight="bold" text-anchor="start" transform="rotate(-90 10.1 174.4)" textLength="32.2" lengthAdjust="spacingAndGlyphs" fill="#000" stroke="#000" stroke-width="0.32">COUNT</text>
<text x="23.5" y="211.6" font-size="8.6" font-family="Liberation Serif" font-weight="bold" text-anchor="start" textLength="7.3" lengthAdjust="spacingAndGlyphs" fill="#000" stroke="#000" stroke-width="0.32">-1</text>
<text x="67.5" y="215.5" font-size="9.4" font-family="Liberation Serif" font-weight="bold" text-anchor="start" textLength="40.5" lengthAdjust="spacingAndGlyphs" fill="#000" stroke="#000" stroke-width="0.32">FL1  LOG</text>
<text x="144" y="215.2" font-size="9.1" font-family="Liberation Serif" font-weight="bold" text-anchor="start" textLength="24.0" lengthAdjust="spacingAndGlyphs" fill="#000" stroke="#000" stroke-width="0.32" letter-spacing="0.5">1000</text>
<path d="M151.38 214.30L153.88 209.76M157.12 214.30L159.62 209.76M162.88 214.30L165.38 209.76" stroke="#000" stroke-width="0.7" fill="none"/>
<text x="65.7" y="228.5" font-size="12.2" font-family="Liberation Sans" text-anchor="start" textLength="45.6" lengthAdjust="spacingAndGlyphs" stroke="#000" stroke-width="0.5">Control</text>
<line x1="188.2" y1="119.1" x2="336.8" y2="119.1" stroke="#5c5c5c" stroke-width="0.8" />
<line x1="188.2" y1="119.1" x2="188.2" y2="204.2" stroke="#333" stroke-width="1.1" />
<line x1="187.7" y1="204.2" x2="336.8" y2="204.2" stroke="#333" stroke-width="1.1" />
<line x1="336.8" y1="119.1" x2="336.8" y2="204.2" stroke="#5c5c5c" stroke-width="0.8" />
<line x1="188.2" y1="205.39999999999998" x2="336.8" y2="205.39999999999998" stroke="#444" stroke-width="1" stroke-dasharray="0.8 1.4"/>
<line x1="188.2" y1="184.6" x2="221.6" y2="184.6" stroke="#696969" stroke-width="0.9" />
<line x1="221.6" y1="182.79999999999998" x2="221.6" y2="185.79999999999998" stroke="#696969" stroke-width="0.9" />
<line x1="221.6" y1="187.9" x2="318" y2="187.9" stroke="#696969" stroke-width="0.9" />
<line x1="221.6" y1="185.70000000000002" x2="221.6" y2="188.4" stroke="#696969" stroke-width="0.9" />
<rect x="317.3" y="186.8" width="1.4" height="1.6" fill="#444"/>
<path d="M188.2 177.9 L189.5 177.9 L189.5 175.3 L190.9 175.3 L190.9 162.9 L192.4 162.9 L192.4 175.5 L193.8 175.5 L193.8 158.8 L195.1 158.8 L195.1 170.4 L196.4 170.4 L196.4 171.9 L197.8 171.9 L197.8 159.8 L199.0 159.8 L199.0 170.8 L200.3 170.8 L200.3 158.5 L201.7 158.5 L201.7 181.0 L203.1 181.0 L203.1 135.2 L204.5 135.2 L204.5 169.1 L206.0 169.1 L206.0 161.8 L207.5 161.8 L207.5 174.5 L208.9 174.5 L208.9 170.9 L210.4 170.9 L210.4 182.9 L211.7 182.9 L211.7 182.1 L213.2 182.1 L213.0 182.1 L213.0 190.7 L214.3 190.7 L214.3 195.3 L215.6 195.3 L215.6 199.3 L217.0 199.3 L216.0 199.3 L216.0 194.5 L217.8 194.5 L217.8 196.0 L219.8 196.0 L219.8 198.5 L221.7 198.5 L221.7 198.5 L223.5 198.5 L223.5 198.5 L226.4 198.5 L226.4 198.5 L228.1 198.5 L228.1 201.5 L229.7 201.5 L229.7 194.5 L232.7 194.5 L232.7 203.0 L234.4 203.0 L234.4 194.5 L236.1 194.5 L236.1 203.0 L237.5 203.0 L237.5 203.0 L239.6 203.0 L239.6 198.5 L241.3 198.5 L241.3 196.0 L244.4 196.0 L244.4 198.5 L246.5 198.5 L246.5 194.5 L248.6 194.5 L248.6 198.5 L251.1 198.5 L251.1 194.5 L253.8 194.5 L253.8 194.5 L255.3 194.5 L255.0 194.5 L255.0 197.5 L256.6 197.5 L256.6 198.4 L258.3 198.4 L258.3 196.8 L259.9 196.8 L259.9 196.2 L261.5 196.2 L261.5 191.8 L263.0 191.8 L263.0 192.1 L264.6 192.1 L264.6 196.4 L266.2 196.4 L266.2 184.0 L267.9 184.0 L267.9 188.0 L269.4 188.0 L269.4 185.9 L270.9 185.9 L270.9 187.7 L272.5 187.7 L272.5 185.4 L274.2 185.4 L274.2 194.5 L275.7 194.5 L275.7 182.3 L277.3 182.3 L277.3 183.5 L278.8 183.5 L278.8 180.9 L280.3 180.9 L280.3 189.6 L282.0 189.6 L282.0 188.9 L283.6 188.9 L283.6 180.8 L285.2 180.8 L285.2 173.1 L286.7 173.1 L286.7 179.9 L288.3 179.9 L288.3 185.3 L289.8 185.3 L289.8 181.0 L291.5 181.0 L291.5 189.9 L293.0 189.9 L293.0 184.3 L294.6 184.3 L294.6 190.4 L296.2 190.4 L296.2 186.4 L297.8 186.4 L297.8 197.4 L299.4 197.4 L299.4 192.6 L301.1 192.6 L301.1 195.5 L302.6 195.5 L302.6 201.2 L304.3 201.2 L304.3 198.7 L305.9 198.7 L305.9 201.5 L307.5 201.5 L307.5 202.5 L309.0 202.5" stroke="#3a3a3a" stroke-width="0.95" fill="none"/>
<path d="M311 204.2V200.6M314.5 204.2V200.6M317.5 204.2V200.6M321 204.2V200.6M324.5 204.2V200.6M328 204.2V200.6" stroke="#3a3a3a" stroke-width="0.8" fill="none"/>
<text x="195.2" y="184.1" font-size="8.6" font-family="Liberation Serif" font-weight="bold" text-anchor="start" textLength="6.3" lengthAdjust="spacingAndGlyphs" fill="#000" stroke="#000" stroke-width="0.32">K</text>
<text x="226.5" y="186.6" font-size="8.6" font-family="Liberation Serif" font-weight="bold" text-anchor="start" textLength="5.3" lengthAdjust="spacingAndGlyphs" fill="#000" stroke="#000" stroke-width="0.32">L</text>
<text x="187.2" y="129.4" font-size="9" font-family="Liberation Serif" font-weight="bold" text-anchor="start" transform="rotate(-90 187.2 129.4)" textLength="9.2" lengthAdjust="spacingAndGlyphs" fill="#000" stroke="#000" stroke-width="0.32">16</text>
<text x="186.2" y="204.4" font-size="9" font-family="Liberation Serif" font-weight="bold" text-anchor="start" transform="rotate(-90 186.2 204.4)" fill="#000" stroke="#000" stroke-width="0.32">0</text>
<path d="M187.20 203.50L189.70 199.36" stroke="#000" stroke-width="0.7" fill="none" transform="rotate(-90 186.2 204.4)"/>
<text x="188.2" y="211" font-size="8.6" font-family="Liberation Serif" font-weight="bold" text-anchor="start" textLength="6.3" lengthAdjust="spacingAndGlyphs" fill="#000" stroke="#000" stroke-width="0.32">-1</text>
<text x="241.1" y="214.7" font-size="9.4" font-family="Liberation Serif" font-weight="bold" text-anchor="start" textLength="41.3" lengthAdjust="spacingAndGlyphs" fill="#000" stroke="#000" stroke-width="0.32">FL1  LOG</text>
<text x="311.7" y="214.2" font-size="9.1" font-family="Liberation Serif" font-weight="bold" text-anchor="start" textLength="24.5" lengthAdjust="spacingAndGlyphs" fill="#000" stroke="#000" stroke-width="0.32" letter-spacing="0.5">1000</text>
<path d="M319.26 213.30L321.76 208.76M325.14 213.30L327.64 208.76M331.01 213.30L333.51 208.76" stroke="#000" stroke-width="0.7" fill="none"/>
<text x="227.3" y="228.2" font-size="12.2" font-family="Liberation Sans" text-anchor="start" textLength="89.4" lengthAdjust="spacingAndGlyphs" stroke="#000" stroke-width="0.5">Thrombin 1IU/</text>
<text x="317" y="228.2" font-size="9.2" font-family="Liberation Sans" text-anchor="start" textLength="14" lengthAdjust="spacingAndGlyphs" stroke="#000" stroke-width="0.5">mL</text>
<line x1="360.9" y1="119.3" x2="513" y2="119.3" stroke="#5c5c5c" stroke-width="0.8" />
<line x1="360.9" y1="119.3" x2="360.9" y2="204.6" stroke="#333" stroke-width="1.1" />
<line x1="360.4" y1="204.6" x2="513" y2="204.6" stroke="#333" stroke-width="1.1" />
<line x1="513" y1="119.3" x2="513" y2="204.6" stroke="#5c5c5c" stroke-width="0.8" />
<line x1="360.9" y1="205.79999999999998" x2="513" y2="205.79999999999998" stroke="#444" stroke-width="1" stroke-dasharray="0.8 1.4"/>
<line x1="360.9" y1="185.4" x2="396.4" y2="185.4" stroke="#696969" stroke-width="0.9" />
<line x1="396.4" y1="183.6" x2="396.4" y2="186.6" stroke="#696969" stroke-width="0.9" />
<line x1="396.4" y1="188.5" x2="491.1" y2="188.5" stroke="#696969" stroke-width="0.9" />
<line x1="396.4" y1="186.3" x2="396.4" y2="189.0" stroke="#696969" stroke-width="0.9" />
<rect x="490.40000000000003" y="187.4" width="1.4" height="1.6" fill="#444"/>
<path d="M360.9 185.0 L362.2 185.0 L362.2 179.0 L363.7 179.0 L363.7 178.0 L365.1 178.0 L365.1 167.9 L366.5 167.9 L366.5 178.7 L367.8 178.7 L367.8 164.5 L369.1 164.5 L369.1 172.5 L370.5 172.5 L370.5 158.0 L372.0 158.0 L372.0 167.3 L373.2 167.3 L373.2 172.1 L374.5 172.1 L374.5 165.9 L376.0 165.9 L376.0 175.2 L377.5 175.2 L377.5 173.5 L378.9 173.5 L378.9 180.8 L380.2 180.8 L380.2 173.5 L381.5 173.5 L381.5 177.2 L382.9 177.2 L382.9 173.5 L384.4 173.5 L384.4 177.2 L385.6 177.2 L385.6 181.0 L387.0 181.0 L387.0 187.8 L388.4 187.8 L388.4 192.4 L389.8 192.4 L389.0 192.4 L389.0 194.7 L390.3 194.7 L390.3 197.3 L391.9 197.3 L391.9 199.8 L393.2 199.8 L393.0 199.8 L393.0 202.0 L394.4 202.0 L394.4 200.5 L396.5 200.5 L396.5 202.0 L397.9 202.0 L397.9 200.5 L400.2 200.5 L400.2 198.5 L402.0 198.5 L402.0 196.5 L404.3 196.5 L404.3 200.5 L406.7 200.5 L406.7 196.5 L409.4 196.5 L409.4 205.8 L411.4 205.8 L411.4 196.5 L413.1 196.5 L413.1 200.5 L416.1 200.5 L416.1 200.5 L418.3 200.5 L418.3 198.5 L421.2 198.5 L420.0 198.5 L420.0 202.9 L421.7 202.9 L421.7 195.3 L423.3 195.3 L423.3 197.4 L424.9 197.4 L424.9 194.4 L426.5 194.4 L426.5 201.7 L428.2 201.7 L428.2 191.4 L429.8 191.4 L429.8 197.7 L431.5 197.7 L431.5 192.2 L433.0 192.2 L433.0 200.9 L434.6 200.9 L434.6 191.5 L436.1 191.5 L436.1 199.1 L437.7 199.1 L437.7 191.7 L439.2 191.7 L439.2 192.3 L440.7 192.3 L440.7 185.3 L442.4 185.3 L442.4 191.2 L444.0 191.2 L444.0 187.0 L445.6 187.0 L445.6 194.5 L447.1 194.5 L447.1 186.6 L448.8 186.6 L448.8 186.7 L450.5 186.7 L450.5 171.5 L452.1 171.5 L452.1 171.9 L453.8 171.9 L453.8 176.2 L455.3 176.2 L455.3 158.5 L456.9 158.5 L456.9 172.2 L458.4 172.2 L458.4 168.5 L459.9 168.5 L459.9 172.2 L461.3 172.2 L461.3 174.6 L463.0 174.6 L463.0 174.1 L464.7 174.1 L464.7 175.8 L466.3 175.8 L466.3 180.2 L467.8 180.2 L467.8 193.4 L469.4 193.4 L469.4 185.4 L471.1 185.4 L471.1 190.7 L472.5 190.7 L472.5 185.7 L474.1 185.7 L474.1 192.5 L475.6 192.5 L475.6 186.7 L477.2 186.7 L477.2 190.1 L478.8 190.1 L478.8 193.8 L480.4 193.8 L480.4 199.0 L482.0 199.0 L482.0 203.1 L483.6 203.1 L483.6 200.5 L485.2 200.5 L485.2 203.3 L486.8 203.3 L486.8 201.8 L488.4 201.8 L488.0 201.8 L488.0 202.0 L489.3 202.0 L489.3 202.0 L490.4 202.0 L490.4 202.0 L491.6 202.0 L491.6 203.5 L492.6 203.5" stroke="#3a3a3a" stroke-width="0.95" fill="none"/>
<path d="M492.5 204.6V202.4M494.5 204.6V202.4M496.5 204.6V202.4M498.5 204.6V202.4M500.5 204.6V202.4" stroke="#3a3a3a" stroke-width="0.8" fill="none"/>
<text x="367" y="184.9" font-size="8.6" font-family="Liberation Serif" font-weight="bold" text-anchor="start" textLength="6.3" lengthAdjust="spacingAndGlyphs" fill="#000" stroke="#000" stroke-width="0.32">K</text>
<text x="397.6" y="186.6" font-size="8.6" font-family="Liberation Serif" font-weight="bold" text-anchor="start" textLength="5.3" lengthAdjust="spacingAndGlyphs" fill="#000" stroke="#000" stroke-width="0.32">L</text>
<text x="360" y="127.8" font-size="9" font-family="Liberation Serif" font-weight="bold" text-anchor="start" transform="rotate(-90 360 127.8)" textLength="8.8" lengthAdjust="spacingAndGlyphs" fill="#000" stroke="#000" stroke-width="0.32">20</text>
<text x="359.4" y="204.8" font-size="9" font-family="Liberation Serif" font-weight="bold" text-anchor="start" transform="rotate(-90 359.4 204.8)" fill="#000" stroke="#000" stroke-width="0.32">0</text>
<path d="M360.40 203.90L362.90 199.76" stroke="#000" stroke-width="0.7" fill="none" transform="rotate(-90 359.4 204.8)"/>
<text x="357.2" y="212.3" font-size="8.6" font-family="Liberation Serif" font-weight="bold" text-anchor="start" textLength="7.3" lengthAdjust="spacingAndGlyphs" fill="#000" stroke="#000" stroke-width="0.32">-1</text>
<text x="419.1" y="214.2" font-size="9.4" font-family="Liberation Serif" font-weight="bold" text-anchor="start" textLength="41.5" lengthAdjust="spacingAndGlyphs" fill="#000" stroke="#000" stroke-width="0.32">FL1  LOG</text>
<text x="491.1" y="212.8" font-size="9.1" font-family="Liberation Serif" font-weight="bold" text-anchor="start" textLength="24.3" lengthAdjust="spacingAndGlyphs" fill="#000" stroke="#000" stroke-width="0.32" letter-spacing="0.5">1000</text>
<path d="M498.59 211.90L501.09 207.36M504.41 211.90L506.91 207.36M510.24 211.90L512.74 207.36" stroke="#000" stroke-width="0.7" fill="none"/>
<text x="392" y="230.1" font-size="12.2" font-family="Liberation Sans" text-anchor="start" textLength="27.8" lengthAdjust="spacingAndGlyphs" stroke="#000" stroke-width="0.5">TNF-</text>
<text x="420.8" y="230.1" font-size="12.6" font-family="Liberation Sans" font-style="italic" text-anchor="start" textLength="7.8" lengthAdjust="spacingAndGlyphs" >α</text>
<text x="432.4" y="230.1" font-size="12.2" font-family="Liberation Sans" text-anchor="start" textLength="42.4" lengthAdjust="spacingAndGlyphs" stroke="#000" stroke-width="0.5">100ng/</text>
<text x="475" y="230.1" font-size="9.2" font-family="Liberation Sans" text-anchor="start" textLength="15.4" lengthAdjust="spacingAndGlyphs" stroke="#000" stroke-width="0.5">mL</text>
<text x="3.4" y="13.8" font-size="17" font-family="Liberation Sans" text-anchor="start" textLength="11.3" lengthAdjust="spacingAndGlyphs" stroke="#000" stroke-width="0.7">A</text>
<text x="2.0" y="257.6" font-size="17" font-family="Liberation Sans" text-anchor="start" textLength="12.6" lengthAdjust="spacingAndGlyphs" stroke="#000" stroke-width="0.7">B</text>
<text x="289.5" y="257.9" font-size="17" font-family="Liberation Sans" text-anchor="start" textLength="12.6" lengthAdjust="spacingAndGlyphs" stroke="#000" stroke-width="0.7">C</text>
<path d="M40.9 418.7V257.7H273.1V409" stroke="#000" stroke-width="1.5" fill="none"/>
<line x1="38.4" y1="409" x2="273.70000000000005" y2="409" stroke="#000" stroke-width="1.4" />
<line x1="38.4" y1="270.7" x2="40.9" y2="270.7" stroke="#000" stroke-width="1.2" />
<text x="33.8" y="275.59999999999997" font-size="8.4" font-family="Liberation Sans" font-weight="bold" text-anchor="end" textLength="19.6" lengthAdjust="spacingAndGlyphs" fill="#000">1500</text>
<line x1="38.4" y1="297.0" x2="40.9" y2="297.0" stroke="#000" stroke-width="1.2" />
<text x="33.8" y="300.59999999999997" font-size="8.4" font-family="Liberation Sans" font-weight="bold" text-anchor="end" textLength="19.6" lengthAdjust="spacingAndGlyphs" fill="#000">1200</text>
<line x1="38.4" y1="325.6" x2="40.9" y2="325.6" stroke="#000" stroke-width="1.2" />
<text x="33.8" y="328.7" font-size="8.4" font-family="Liberation Sans" font-weight="bold" text-anchor="end" textLength="14.700000000000001" lengthAdjust="spacingAndGlyphs" fill="#000">750</text>
<line x1="38.4" y1="355.5" x2="40.9" y2="355.5" stroke="#000" stroke-width="1.2" />
<text x="33.8" y="358.8" font-size="8.4" font-family="Liberation Sans" font-weight="bold" text-anchor="end" textLength="14.700000000000001" lengthAdjust="spacingAndGlyphs" fill="#000">500</text>
<line x1="38.4" y1="390.6" x2="40.9" y2="390.6" stroke="#000" stroke-width="1.2" />
<text x="33.8" y="395.2" font-size="8.4" font-family="Liberation Sans" font-weight="bold" text-anchor="end" textLength="14.700000000000001" lengthAdjust="spacingAndGlyphs" fill="#000">250</text>
<text x="36.5" y="413.8" font-size="9" font-family="Liberation Sans" font-weight="bold" text-anchor="end" textLength="5.6" lengthAdjust="spacingAndGlyphs" fill="#000">0</text>
<rect x="37.9" y="298.3" width="6" height="5.0" fill="#fff"/>
<line x1="37.3" y1="301.0" x2="45.1" y2="297.5" stroke="#000" stroke-width="1" />
<line x1="37.699999999999996" y1="304.5" x2="45.1" y2="301.5" stroke="#000" stroke-width="1" />
<defs>
<pattern id="hs" width="2" height="2" patternUnits="userSpaceOnUse"><rect width="2" height="2" fill="#dadada"/><rect width="2" height="1" fill="#6a6a6a"/></pattern>
<pattern id="ck" width="4" height="4" patternUnits="userSpaceOnUse"><rect width="4" height="4" fill="#f6f6f6"/><rect width="2" height="2" fill="#111"/><rect x="2" y="2" width="2" height="2" fill="#111"/></pattern>
</defs>
<rect x="54.5" y="370.4" width="13.900000000000006" height="38.60000000000002" fill="#b8b8b8" stroke="#000" stroke-width="1.4"/>
<line x1="61.45" y1="370.4" x2="61.45" y2="366.5" stroke="#000" stroke-width="1.2" />
<line x1="55.95" y1="366.5" x2="66.95" y2="366.5" stroke="#000" stroke-width="1.2" />
<rect x="82.2" y="352.3" width="13.399999999999991" height="56.69999999999999" fill="#000" stroke="#000" stroke-width="1"/>
<line x1="88.9" y1="352.3" x2="88.9" y2="339.3" stroke="#000" stroke-width="1.2" />
<line x1="83.4" y1="339.3" x2="94.4" y2="339.3" stroke="#000" stroke-width="1.2" />
<rect x="106.5" y="316.8" width="14.299999999999997" height="92.19999999999999" fill="#000" stroke="#000" stroke-width="1"/>
<line x1="113.65" y1="316.8" x2="113.65" y2="311.5" stroke="#000" stroke-width="1.2" />
<line x1="108.15" y1="311.5" x2="119.15" y2="311.5" stroke="#000" stroke-width="1.2" />
<rect x="134.7" y="320" width="14.800000000000011" height="89" fill="#000" stroke="#000" stroke-width="1"/>
<line x1="142.1" y1="320" x2="142.1" y2="311.5" stroke="#000" stroke-width="1.2" />
<line x1="136.6" y1="311.5" x2="147.6" y2="311.5" stroke="#000" stroke-width="1.2" />
<rect x="176.2" y="322.9" width="16.100000000000023" height="86.10000000000002" fill="url(#hs)" stroke="#111" stroke-width="1.3"/>
<line x1="184.25" y1="322.9" x2="184.25" y2="316" stroke="#000" stroke-width="1.2" />
<line x1="179.85" y1="316" x2="188.65" y2="316" stroke="#000" stroke-width="1.2" />
<rect x="212.5" y="365.3" width="13.5" height="43.69999999999999" fill="url(#ck)" stroke="#000" stroke-width="1.3"/>
<line x1="219.25" y1="365.3" x2="219.25" y2="361.8" stroke="#000" stroke-width="1.2" />
<line x1="214.55" y1="361.8" x2="223.95" y2="361.8" stroke="#000" stroke-width="1.2" />
<rect x="246.1" y="272.5" width="14.799999999999983" height="136.5" fill="#fff" stroke="#000" stroke-width="1.6"/>
<line x1="253.5" y1="272.5" x2="253.5" y2="263.3" stroke="#000" stroke-width="1.2" />
<line x1="248.1" y1="263.3" x2="258.9" y2="263.3" stroke="#000" stroke-width="1.2" />
<rect x="244" y="296.6" width="4.5" height="7.6" fill="#fff"/>
<line x1="242.5" y1="301.7" x2="249.2" y2="297.4" stroke="#000" stroke-width="1.3" />
<line x1="243.7" y1="305.4" x2="250.4" y2="301.3" stroke="#000" stroke-width="1.3" />
<line x1="63.1" y1="287.8" x2="113.9" y2="287.8" stroke="#777" stroke-width="1.1" />
<line x1="115.4" y1="286.2" x2="220.2" y2="286.2" stroke="#777" stroke-width="1.1" />
<line x1="115.0" y1="298.5" x2="184" y2="298.5" stroke="#777" stroke-width="1.1" />
<line x1="62.7" y1="333.3" x2="89.6" y2="333.3" stroke="#777" stroke-width="1.1" />
<text x="90.85" y="289.2" font-size="14.6" font-family="Liberation Sans" font-weight="bold" text-anchor="middle" fill="#222">***</text>
<text x="161.3" y="289.2" font-size="14.6" font-family="Liberation Sans" font-weight="bold" text-anchor="middle" fill="#222">***</text>
<text x="76.9" y="335.2" font-size="14.6" font-family="Liberation Sans" font-weight="bold" text-anchor="middle" fill="#222">*</text>
<text x="145.5" y="295.5" font-size="7.4" font-family="Liberation Sans" font-weight="bold" text-anchor="middle" textLength="11.4" lengthAdjust="spacingAndGlyphs" fill="#111" stroke="#111" stroke-width="0.2">NS</text>
<text x="65.5" y="415.8" font-size="8" font-family="Liberation Sans" font-weight="bold" text-anchor="end" transform="rotate(-37 65.5 415.8)" textLength="28" lengthAdjust="spacingAndGlyphs" >Control</text>
<text x="80.3" y="421.8" font-size="7.7" font-family="Liberation Sans" font-weight="bold" text-anchor="start" textLength="44.3" lengthAdjust="spacingAndGlyphs" stroke="#000" stroke-width="0.15">THROMBIN</text>
<text x="125.6" y="421.8" font-size="7.5" font-family="Liberation Sans" font-weight="bold" text-anchor="start" textLength="27.8" lengthAdjust="spacingAndGlyphs" >(IU/mL)</text>
<line x1="82" y1="426.3" x2="149.8" y2="426.3" stroke="#444" stroke-width="1.2" />
<text x="89.9" y="435.8" font-size="8.2" font-family="Liberation Sans" font-weight="bold" text-anchor="middle" textLength="11.2" lengthAdjust="spacingAndGlyphs" fill="#111">0.1</text>
<text x="114.6" y="435.8" font-size="8.2" font-family="Liberation Sans" font-weight="bold" text-anchor="middle" textLength="11.2" lengthAdjust="spacingAndGlyphs" fill="#111">1.0</text>
<text x="143.3" y="435.8" font-size="8.2" font-family="Liberation Sans" font-weight="bold" text-anchor="middle" textLength="11.2" lengthAdjust="spacingAndGlyphs" fill="#111">2.5</text>
<text x="191.6" y="416.6" font-size="8" font-family="Liberation Sans" font-weight="bold" text-anchor="end" transform="rotate(-37 191.6 416.6)" textLength="45.5" lengthAdjust="spacingAndGlyphs" >TRAP 20µM</text>
<text x="225.3" y="416.4" font-size="8" font-family="Liberation Sans" font-weight="bold" text-anchor="end" transform="rotate(-37 225.3 416.4)" textLength="56" lengthAdjust="spacingAndGlyphs" >PPACK 0.1µM</text>
<text x="261.6" y="414.8" font-size="8" font-family="Liberation Sans" font-weight="bold" text-anchor="end" transform="rotate(-37 261.6 414.8)" textLength="58" lengthAdjust="spacingAndGlyphs" >TNF 100ng/mL</text>
<text x="10.5" y="384.7" font-size="8.8" font-family="Liberation Sans" font-weight="bold" text-anchor="start" transform="rotate(-90 10.5 384.7)" textLength="88.2" lengthAdjust="spacingAndGlyphs" >EMP x10<tspan font-size="5.5" dy="-2.8">3</tspan><tspan dy="2.8"> / 10</tspan><tspan font-size="5.5" dy="-2.8">6</tspan><tspan dy="2.8"> cells</tspan></text>
<rect x="324.6" y="257.4" width="194.89999999999998" height="109.10000000000002" fill="none" stroke="#000" stroke-width="1.5"/>
<line x1="322.40000000000003" y1="302.6" x2="324.6" y2="302.6" stroke="#000" stroke-width="1.2" />
<text x="320.9" y="306.1" font-size="9.3" font-family="Liberation Sans" font-weight="bold" text-anchor="end" textLength="16.3" lengthAdjust="spacingAndGlyphs" >750</text>
<line x1="322.40000000000003" y1="325.2" x2="324.6" y2="325.2" stroke="#000" stroke-width="1.2" />
<text x="320.9" y="328.7" font-size="9.3" font-family="Liberation Sans" font-weight="bold" text-anchor="end" textLength="16.3" lengthAdjust="spacingAndGlyphs" >500</text>
<line x1="322.40000000000003" y1="347.0" x2="324.6" y2="347.0" stroke="#000" stroke-width="1.2" />
<text x="320.9" y="350.5" font-size="9.3" font-family="Liberation Sans" font-weight="bold" text-anchor="end" textLength="16.3" lengthAdjust="spacingAndGlyphs" >250</text>
<text x="316.8" y="373.4" font-size="9.3" font-family="Liberation Sans" font-weight="bold" text-anchor="end" textLength="5.5" lengthAdjust="spacingAndGlyphs" >0</text>
<text x="324.8" y="376.7" font-size="9.3" font-family="Liberation Sans" font-weight="bold" text-anchor="middle" textLength="5.5" lengthAdjust="spacingAndGlyphs" >0</text>
<line x1="341.9" y1="366.5" x2="341.9" y2="368.9" stroke="#000" stroke-width="1.1" />
<text x="341.9" y="376.7" font-size="9.3" font-family="Liberation Sans" font-weight="bold" text-anchor="middle" textLength="5.5" lengthAdjust="spacingAndGlyphs" >1</text>
<line x1="359.7" y1="366.5" x2="359.7" y2="368.9" stroke="#000" stroke-width="1.1" />
<text x="359.7" y="376.7" font-size="9.3" font-family="Liberation Sans" font-weight="bold" text-anchor="middle" textLength="5.5" lengthAdjust="spacingAndGlyphs" >2</text>
<line x1="394.8" y1="366.5" x2="394.8" y2="368.9" stroke="#000" stroke-width="1.1" />
<text x="394.8" y="376.7" font-size="9.3" font-family="Liberation Sans" font-weight="bold" text-anchor="middle" textLength="5.5" lengthAdjust="spacingAndGlyphs" >4</text>
<line x1="430.8" y1="366.5" x2="430.8" y2="368.9" stroke="#000" stroke-width="1.1" />
<text x="430.8" y="376.7" font-size="9.3" font-family="Liberation Sans" font-weight="bold" text-anchor="middle" textLength="5.5" lengthAdjust="spacingAndGlyphs" >6</text>
<line x1="458.5" y1="366.5" x2="458.5" y2="368.9" stroke="#000" stroke-width="1.1" />
<text x="458.5" y="376.7" font-size="9.3" font-family="Liberation Sans" font-weight="bold" text-anchor="middle" textLength="11.0" lengthAdjust="spacingAndGlyphs" >18</text>
<line x1="480" y1="366.5" x2="480" y2="368.9" stroke="#000" stroke-width="1.1" />
<text x="480" y="376.7" font-size="9.3" font-family="Liberation Sans" font-weight="bold" text-anchor="middle" textLength="11.0" lengthAdjust="spacingAndGlyphs" >24</text>
<line x1="502" y1="366.5" x2="502" y2="368.9" stroke="#000" stroke-width="1.1" />
<text x="502" y="376.7" font-size="9.3" font-family="Liberation Sans" font-weight="bold" text-anchor="middle" textLength="11.0" lengthAdjust="spacingAndGlyphs" >48</text>
<text x="392.3" y="385.8" font-size="9.4" font-family="Liberation Sans" font-weight="bold" text-anchor="start" textLength="59" lengthAdjust="spacingAndGlyphs" >TIME (hours)</text>
<text x="298.3" y="363.3" font-size="8.8" font-family="Liberation Sans" font-weight="bold" text-anchor="start" transform="rotate(-90 298.3 363.3)" textLength="89" lengthAdjust="spacingAndGlyphs" >EMP x10<tspan font-size="5.5" dy="-2.8">3</tspan><tspan dy="2.8"> / 10</tspan><tspan font-size="5.5" dy="-2.8">6</tspan><tspan dy="2.8"> cells</tspan></text>
<rect x="447.9" y="365.09999999999997" width="2.0" height="3.2" fill="#fff"/>
<line x1="446.0" y1="363.8" x2="449.84999999999997" y2="369.59999999999997" stroke="#000" stroke-width="1.1" />
<line x1="447.95" y1="363.8" x2="451.79999999999995" y2="369.59999999999997" stroke="#000" stroke-width="1.1" />
<rect x="467.3" y="365.09999999999997" width="2.0" height="3.2" fill="#fff"/>
<line x1="465.40000000000003" y1="363.8" x2="469.25" y2="369.59999999999997" stroke="#000" stroke-width="1.1" />
<line x1="467.35" y1="363.8" x2="471.2" y2="369.59999999999997" stroke="#000" stroke-width="1.1" />
<rect x="488.3" y="365.09999999999997" width="2.0" height="3.2" fill="#fff"/>
<line x1="486.40000000000003" y1="363.8" x2="490.25" y2="369.59999999999997" stroke="#000" stroke-width="1.1" />
<line x1="488.35" y1="363.8" x2="492.2" y2="369.59999999999997" stroke="#000" stroke-width="1.1" />
<polyline points="324.4,360.8 342.6,350.5 361,343 395.2,335.3 430.2,327.2 458.5,297.6 480,293 501.5,288.3" fill="none" stroke="#000" stroke-width="1.35"/>
<polyline points="324.4,360.8 342.6,357.7 361,354 395.2,347.7 430.2,340.6 458.5,330.6 480,329 501.5,330.6" fill="none" stroke="#000" stroke-width="1.4" stroke-dasharray="1.4 1.4"/>
<circle cx="342.6" cy="350.5" r="2.05" fill="#000"/>
<line x1="342.6" y1="350.5" x2="342.6" y2="345.9" stroke="#000" stroke-width="1.0" />
<line x1="340.5" y1="345.9" x2="344.70000000000005" y2="345.9" stroke="#000" stroke-width="1.1" />
<circle cx="361" cy="343" r="2.05" fill="#000"/>
<line x1="361" y1="343" x2="361" y2="336.5" stroke="#000" stroke-width="1.0" />
<line x1="358.9" y1="336.5" x2="363.1" y2="336.5" stroke="#000" stroke-width="1.1" />
<circle cx="395.2" cy="335.3" r="2.05" fill="#000"/>
<line x1="395.2" y1="335.3" x2="395.2" y2="328.1" stroke="#000" stroke-width="1.0" />
<line x1="393.09999999999997" y1="328.1" x2="397.3" y2="328.1" stroke="#000" stroke-width="1.1" />
<circle cx="430.2" cy="327.2" r="2.05" fill="#000"/>
<line x1="430.2" y1="327.2" x2="430.2" y2="318.2" stroke="#000" stroke-width="1.0" />
<line x1="428.09999999999997" y1="318.2" x2="432.3" y2="318.2" stroke="#000" stroke-width="1.1" />
<circle cx="458.5" cy="297.6" r="2.05" fill="#000"/>
<line x1="458.5" y1="297.6" x2="458.5" y2="288.3" stroke="#000" stroke-width="1.0" />
<line x1="456.4" y1="288.3" x2="460.6" y2="288.3" stroke="#000" stroke-width="1.1" />
<circle cx="480" cy="293" r="2.05" fill="#000"/>
<line x1="480" y1="293" x2="480" y2="282.4" stroke="#000" stroke-width="1.0" />
<line x1="477.9" y1="282.4" x2="482.1" y2="282.4" stroke="#000" stroke-width="1.1" />
<circle cx="501.5" cy="288.3" r="2.05" fill="#000"/>
<line x1="501.5" y1="288.3" x2="501.5" y2="280.5" stroke="#000" stroke-width="1.0" />
<line x1="499.4" y1="280.5" x2="503.6" y2="280.5" stroke="#000" stroke-width="1.1" />
<path d="M342.6 355.09999999999997L344.90000000000003 359.4H340.3Z" fill="#000"/>
<line x1="342.6" y1="357.7" x2="342.6" y2="354" stroke="#000" stroke-width="1.0" />
<line x1="340.5" y1="354" x2="344.70000000000005" y2="354" stroke="#000" stroke-width="1.1" />
<path d="M361 351.4L363.3 355.7H358.7Z" fill="#000"/>
<line x1="361" y1="354" x2="361" y2="350" stroke="#000" stroke-width="1.0" />
<line x1="358.9" y1="350" x2="363.1" y2="350" stroke="#000" stroke-width="1.1" />
<path d="M395.2 345.09999999999997L397.5 349.4H392.9Z" fill="#000"/>
<line x1="395.2" y1="347.7" x2="395.2" y2="343.7" stroke="#000" stroke-width="1.0" />
<line x1="393.09999999999997" y1="343.7" x2="397.3" y2="343.7" stroke="#000" stroke-width="1.1" />
<path d="M430.2 338.0L432.5 342.3H427.9Z" fill="#000"/>
<line x1="430.2" y1="340.6" x2="430.2" y2="336.5" stroke="#000" stroke-width="1.0" />
<line x1="428.09999999999997" y1="336.5" x2="432.3" y2="336.5" stroke="#000" stroke-width="1.1" />
<path d="M458.5 328.0L460.8 332.3H456.2Z" fill="#000"/>
<line x1="458.5" y1="330.6" x2="458.5" y2="324" stroke="#000" stroke-width="1.0" />
<line x1="456.4" y1="324" x2="460.6" y2="324" stroke="#000" stroke-width="1.1" />
<path d="M480 326.4L482.3 330.7H477.7Z" fill="#000"/>
<line x1="480" y1="329" x2="480" y2="322.8" stroke="#000" stroke-width="1.0" />
<line x1="477.9" y1="322.8" x2="482.1" y2="322.8" stroke="#000" stroke-width="1.1" />
<path d="M501.5 328.0L503.8 332.3H499.2Z" fill="#000"/>
<line x1="501.5" y1="330.6" x2="501.5" y2="324" stroke="#000" stroke-width="1.0" />
<line x1="499.4" y1="324" x2="503.6" y2="324" stroke="#000" stroke-width="1.1" />
<rect x="447.2" y="305.7" width="2.0" height="3.2" fill="#fff"/>
<line x1="445.3" y1="304.5" x2="449.15" y2="310.1" stroke="#000" stroke-width="0.9" />
<line x1="447.25" y1="304.5" x2="451.09999999999997" y2="310.1" stroke="#000" stroke-width="0.9" />
<rect x="467.4" y="293.2" width="2.0" height="3.2" fill="#fff"/>
<line x1="465.5" y1="292.0" x2="469.34999999999997" y2="297.6" stroke="#000" stroke-width="0.9" />
<line x1="467.45" y1="292.0" x2="471.29999999999995" y2="297.6" stroke="#000" stroke-width="0.9" />
<rect x="489.2" y="288.2" width="2.0" height="3.2" fill="#fff"/>
<line x1="487.3" y1="287.0" x2="491.15" y2="292.6" stroke="#000" stroke-width="0.9" />
<line x1="489.25" y1="287.0" x2="493.09999999999997" y2="292.6" stroke="#000" stroke-width="0.9" />
<rect x="447.2" y="333.7" width="2.0" height="3.2" fill="#fff"/>
<line x1="445.3" y1="332.5" x2="449.15" y2="338.1" stroke="#000" stroke-width="0.9" />
<line x1="447.25" y1="332.5" x2="451.09999999999997" y2="338.1" stroke="#000" stroke-width="0.9" />
<rect x="467.4" y="328.09999999999997" width="2.0" height="3.2" fill="#fff"/>
<line x1="465.5" y1="326.9" x2="469.34999999999997" y2="332.5" stroke="#000" stroke-width="0.9" />
<line x1="467.45" y1="326.9" x2="471.29999999999995" y2="332.5" stroke="#000" stroke-width="0.9" />
<rect x="489.2" y="327.4" width="2.0" height="3.2" fill="#fff"/>
<line x1="487.3" y1="326.2" x2="491.15" y2="331.8" stroke="#000" stroke-width="0.9" />
<line x1="489.25" y1="326.2" x2="493.09999999999997" y2="331.8" stroke="#000" stroke-width="0.9" />
<text x="394.8" y="328.21875" font-size="13.5" font-family="Liberation Sans" font-weight="bold" text-anchor="middle" fill="#222">*</text>
<text x="429.8" y="318.91875" font-size="13.5" font-family="Liberation Sans" font-weight="bold" text-anchor="middle" fill="#222">*</text>
<text x="456" y="288.11875" font-size="13.5" font-family="Liberation Sans" font-weight="bold" text-anchor="middle" fill="#222">***</text>
<text x="479.8" y="282.11875" font-size="13.5" font-family="Liberation Sans" font-weight="bold" text-anchor="middle" fill="#222">***</text>
<text x="501.3" y="279.51875" font-size="13.5" font-family="Liberation Sans" font-weight="bold" text-anchor="middle" fill="#222">***</text>
</svg></body></html>
